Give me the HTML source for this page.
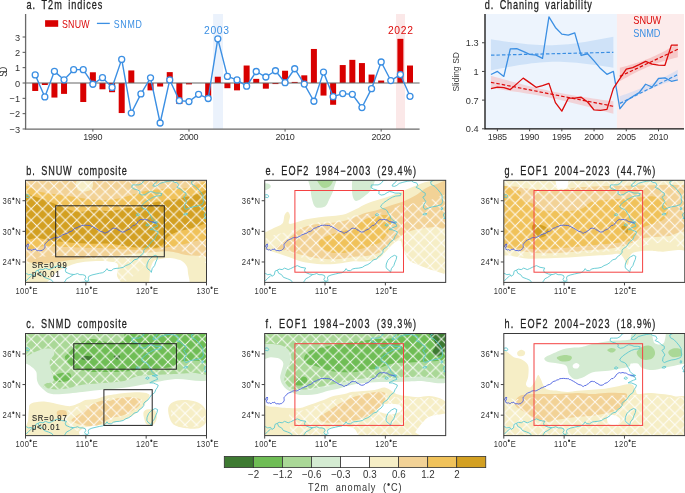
<!DOCTYPE html>
<html><head><meta charset="utf-8"><style>
html,body{margin:0;padding:0;background:#fff;}
svg{display:block;font-family:"Liberation Sans", sans-serif;will-change:transform;}
</style></head><body>
<svg width="685" height="493" viewBox="0 0 685 493">
<rect width="685" height="493" fill="#fff"/>
<rect x="213.1" y="14" width="9.9" height="115" fill="#ebf2fc"/>
<rect x="396" y="14" width="9" height="115" fill="#fbe8e8"/>
<rect x="32.21" y="83.00" width="6.0" height="7.97" fill="#d80000"/>
<rect x="41.82" y="83.00" width="6.0" height="1.99" fill="#d80000"/>
<rect x="51.43" y="83.00" width="6.0" height="14.56" fill="#d80000"/>
<rect x="61.04" y="83.00" width="6.0" height="10.88" fill="#d80000"/>
<rect x="80.26" y="83.00" width="6.0" height="19.01" fill="#d80000"/>
<rect x="89.87" y="72.27" width="6.0" height="10.73" fill="#d80000"/>
<rect x="99.48" y="83.00" width="6.0" height="6.29" fill="#d80000"/>
<rect x="109.09" y="83.00" width="6.0" height="9.20" fill="#d80000"/>
<rect x="118.70" y="83.00" width="6.0" height="30.05" fill="#d80000"/>
<rect x="128.31" y="70.43" width="6.0" height="12.57" fill="#d80000"/>
<rect x="147.53" y="83.00" width="6.0" height="7.36" fill="#d80000"/>
<rect x="157.14" y="83.00" width="6.0" height="3.53" fill="#d80000"/>
<rect x="166.75" y="72.12" width="6.0" height="10.88" fill="#d80000"/>
<rect x="176.36" y="83.00" width="6.0" height="21.00" fill="#d80000"/>
<rect x="185.97" y="83.00" width="6.0" height="1.38" fill="#d80000"/>
<rect x="205.19" y="83.00" width="6.0" height="13.34" fill="#d80000"/>
<rect x="214.80" y="76.71" width="6.0" height="6.29" fill="#d80000"/>
<rect x="224.41" y="83.00" width="6.0" height="5.21" fill="#d80000"/>
<rect x="234.02" y="83.00" width="6.0" height="7.36" fill="#d80000"/>
<rect x="243.63" y="65.52" width="6.0" height="17.48" fill="#d80000"/>
<rect x="253.24" y="78.86" width="6.0" height="4.14" fill="#d80000"/>
<rect x="262.85" y="83.00" width="6.0" height="5.67" fill="#d80000"/>
<rect x="272.46" y="83.00" width="6.0" height="1.07" fill="#d80000"/>
<rect x="282.07" y="70.74" width="6.0" height="12.26" fill="#d80000"/>
<rect x="291.68" y="81.93" width="6.0" height="1.07" fill="#d80000"/>
<rect x="301.29" y="75.33" width="6.0" height="7.67" fill="#d80000"/>
<rect x="310.90" y="48.97" width="6.0" height="34.03" fill="#d80000"/>
<rect x="320.51" y="83.00" width="6.0" height="12.57" fill="#d80000"/>
<rect x="330.12" y="83.00" width="6.0" height="21.77" fill="#d80000"/>
<rect x="339.73" y="65.06" width="6.0" height="17.94" fill="#d80000"/>
<rect x="349.34" y="59.85" width="6.0" height="23.15" fill="#d80000"/>
<rect x="358.95" y="63.07" width="6.0" height="19.93" fill="#d80000"/>
<rect x="368.56" y="74.57" width="6.0" height="8.43" fill="#d80000"/>
<rect x="378.17" y="80.55" width="6.0" height="2.45" fill="#d80000"/>
<rect x="397.39" y="38.85" width="6.0" height="44.15" fill="#d80000"/>
<rect x="407.00" y="65.52" width="6.0" height="17.48" fill="#d80000"/>
<line x1="25.6" y1="83.00" x2="419.6" y2="83.00" stroke="#666" stroke-width="1.2"/>
<polyline points="35.21,74.88 44.82,96.95 54.43,71.35 64.04,79.78 73.65,69.66 83.26,69.66 92.87,84.23 102.48,77.63 112.09,87.45 121.70,59.39 131.31,113.05 140.92,93.88 150.53,77.79 160.14,123.01 169.75,79.93 179.36,100.63 188.97,101.55 198.58,94.34 208.19,98.48 217.80,38.85 227.41,76.41 237.02,79.93 246.63,86.22 256.24,71.50 265.85,77.02 275.46,70.74 285.07,82.69 294.68,68.74 304.29,84.07 313.90,101.24 323.51,72.12 333.12,96.64 342.73,93.58 352.34,94.34 361.95,107.53 371.56,88.67 381.17,62.00 390.78,80.55 400.39,74.57 410.00,96.34" fill="none" stroke="#3b8fe3" stroke-width="1.4" stroke-linejoin="round"/>
<circle cx="35.21" cy="74.88" r="3.0" fill="#fff" stroke="#3b8fe3" stroke-width="1.3"/>
<circle cx="44.82" cy="96.95" r="3.0" fill="#fff" stroke="#3b8fe3" stroke-width="1.3"/>
<circle cx="54.43" cy="71.35" r="3.0" fill="#fff" stroke="#3b8fe3" stroke-width="1.3"/>
<circle cx="64.04" cy="79.78" r="3.0" fill="#fff" stroke="#3b8fe3" stroke-width="1.3"/>
<circle cx="73.65" cy="69.66" r="3.0" fill="#fff" stroke="#3b8fe3" stroke-width="1.3"/>
<circle cx="83.26" cy="69.66" r="3.0" fill="#fff" stroke="#3b8fe3" stroke-width="1.3"/>
<circle cx="92.87" cy="84.23" r="3.0" fill="#fff" stroke="#3b8fe3" stroke-width="1.3"/>
<circle cx="102.48" cy="77.63" r="3.0" fill="#fff" stroke="#3b8fe3" stroke-width="1.3"/>
<circle cx="112.09" cy="87.45" r="3.0" fill="#fff" stroke="#3b8fe3" stroke-width="1.3"/>
<circle cx="121.70" cy="59.39" r="3.0" fill="#fff" stroke="#3b8fe3" stroke-width="1.3"/>
<circle cx="131.31" cy="113.05" r="3.0" fill="#fff" stroke="#3b8fe3" stroke-width="1.3"/>
<circle cx="140.92" cy="93.88" r="3.0" fill="#fff" stroke="#3b8fe3" stroke-width="1.3"/>
<circle cx="150.53" cy="77.79" r="3.0" fill="#fff" stroke="#3b8fe3" stroke-width="1.3"/>
<circle cx="160.14" cy="123.01" r="3.0" fill="#fff" stroke="#3b8fe3" stroke-width="1.3"/>
<circle cx="169.75" cy="79.93" r="3.0" fill="#fff" stroke="#3b8fe3" stroke-width="1.3"/>
<circle cx="179.36" cy="100.63" r="3.0" fill="#fff" stroke="#3b8fe3" stroke-width="1.3"/>
<circle cx="188.97" cy="101.55" r="3.0" fill="#fff" stroke="#3b8fe3" stroke-width="1.3"/>
<circle cx="198.58" cy="94.34" r="3.0" fill="#fff" stroke="#3b8fe3" stroke-width="1.3"/>
<circle cx="208.19" cy="98.48" r="3.0" fill="#fff" stroke="#3b8fe3" stroke-width="1.3"/>
<circle cx="217.80" cy="38.85" r="3.0" fill="#fff" stroke="#3b8fe3" stroke-width="1.3"/>
<circle cx="227.41" cy="76.41" r="3.0" fill="#fff" stroke="#3b8fe3" stroke-width="1.3"/>
<circle cx="237.02" cy="79.93" r="3.0" fill="#fff" stroke="#3b8fe3" stroke-width="1.3"/>
<circle cx="246.63" cy="86.22" r="3.0" fill="#fff" stroke="#3b8fe3" stroke-width="1.3"/>
<circle cx="256.24" cy="71.50" r="3.0" fill="#fff" stroke="#3b8fe3" stroke-width="1.3"/>
<circle cx="265.85" cy="77.02" r="3.0" fill="#fff" stroke="#3b8fe3" stroke-width="1.3"/>
<circle cx="275.46" cy="70.74" r="3.0" fill="#fff" stroke="#3b8fe3" stroke-width="1.3"/>
<circle cx="285.07" cy="82.69" r="3.0" fill="#fff" stroke="#3b8fe3" stroke-width="1.3"/>
<circle cx="294.68" cy="68.74" r="3.0" fill="#fff" stroke="#3b8fe3" stroke-width="1.3"/>
<circle cx="304.29" cy="84.07" r="3.0" fill="#fff" stroke="#3b8fe3" stroke-width="1.3"/>
<circle cx="313.90" cy="101.24" r="3.0" fill="#fff" stroke="#3b8fe3" stroke-width="1.3"/>
<circle cx="323.51" cy="72.12" r="3.0" fill="#fff" stroke="#3b8fe3" stroke-width="1.3"/>
<circle cx="333.12" cy="96.64" r="3.0" fill="#fff" stroke="#3b8fe3" stroke-width="1.3"/>
<circle cx="342.73" cy="93.58" r="3.0" fill="#fff" stroke="#3b8fe3" stroke-width="1.3"/>
<circle cx="352.34" cy="94.34" r="3.0" fill="#fff" stroke="#3b8fe3" stroke-width="1.3"/>
<circle cx="361.95" cy="107.53" r="3.0" fill="#fff" stroke="#3b8fe3" stroke-width="1.3"/>
<circle cx="371.56" cy="88.67" r="3.0" fill="#fff" stroke="#3b8fe3" stroke-width="1.3"/>
<circle cx="381.17" cy="62.00" r="3.0" fill="#fff" stroke="#3b8fe3" stroke-width="1.3"/>
<circle cx="390.78" cy="80.55" r="3.0" fill="#fff" stroke="#3b8fe3" stroke-width="1.3"/>
<circle cx="400.39" cy="74.57" r="3.0" fill="#fff" stroke="#3b8fe3" stroke-width="1.3"/>
<circle cx="410.00" cy="96.34" r="3.0" fill="#fff" stroke="#3b8fe3" stroke-width="1.3"/>
<path d="M25.6,14 V129.1 H419.6" fill="none" stroke="#6a6a6a" stroke-width="1.3"/>
<line x1="22.6" y1="37.01" x2="25.6" y2="37.01" stroke="#555" stroke-width="1"/>
<text x="0" y="0" font-size="9.7" fill="#333" transform="translate(20.10 40.61) translate(-5.11 0) scale(0.95 1)">3</text>
<line x1="22.6" y1="52.34" x2="25.6" y2="52.34" stroke="#555" stroke-width="1"/>
<text x="0" y="0" font-size="9.7" fill="#333" transform="translate(20.10 55.94) translate(-5.11 0) scale(0.95 1)">2</text>
<line x1="22.6" y1="67.67" x2="25.6" y2="67.67" stroke="#555" stroke-width="1"/>
<text x="0" y="0" font-size="9.7" fill="#333" transform="translate(20.10 71.27) translate(-5.11 0) scale(0.95 1)">1</text>
<line x1="22.6" y1="83.00" x2="25.6" y2="83.00" stroke="#555" stroke-width="1"/>
<text x="0" y="0" font-size="9.7" fill="#333" transform="translate(20.10 86.60) translate(-5.11 0) scale(0.95 1)">0</text>
<line x1="22.6" y1="98.33" x2="25.6" y2="98.33" stroke="#555" stroke-width="1"/>
<text x="0" y="0" font-size="9.7" fill="#333" transform="translate(20.10 101.93) translate(-10.51 0) scale(0.95 1)">&#8722;1</text>
<line x1="22.6" y1="113.66" x2="25.6" y2="113.66" stroke="#555" stroke-width="1"/>
<text x="0" y="0" font-size="9.7" fill="#333" transform="translate(20.10 117.26) translate(-10.51 0) scale(0.95 1)">&#8722;2</text>
<line x1="22.6" y1="128.99" x2="25.6" y2="128.99" stroke="#555" stroke-width="1"/>
<text x="0" y="0" font-size="9.7" fill="#333" transform="translate(20.10 132.59) translate(-10.51 0) scale(0.95 1)">&#8722;3</text>
<line x1="92.87" y1="129.1" x2="92.87" y2="131.6" stroke="#555" stroke-width="1"/>
<text x="0" y="0" font-size="9.8" fill="#333" letter-spacing="-0.276" transform="translate(92.87 139.90) translate(-9.65 0) scale(0.92 1)">1990</text>
<line x1="188.97" y1="129.1" x2="188.97" y2="131.6" stroke="#555" stroke-width="1"/>
<text x="0" y="0" font-size="9.8" fill="#333" letter-spacing="-0.276" transform="translate(188.97 139.90) translate(-9.65 0) scale(0.92 1)">2000</text>
<line x1="285.07" y1="129.1" x2="285.07" y2="131.6" stroke="#555" stroke-width="1"/>
<text x="0" y="0" font-size="9.8" fill="#333" letter-spacing="-0.276" transform="translate(285.07 139.90) translate(-9.65 0) scale(0.92 1)">2010</text>
<line x1="381.17" y1="129.1" x2="381.17" y2="131.6" stroke="#555" stroke-width="1"/>
<text x="0" y="0" font-size="9.8" fill="#333" letter-spacing="-0.276" transform="translate(381.17 139.90) translate(-9.65 0) scale(0.92 1)">2020</text>
<text x="0" y="0" font-size="11" fill="#333" letter-spacing="-1.957" transform="translate(6.80 71.80) rotate(-90) translate(-5.00 0) scale(0.75 1)">SD</text>
<text x="0" y="0" font-size="12" fill="#222" letter-spacing="1.251" word-spacing="2.895" stroke="#222" stroke-width="0.26" transform="translate(26.60 8.80) translate(0.00 0) scale(0.76 1)">a. T2m indices</text>
<rect x="45.1" y="20.2" width="13.1" height="6.6" fill="#d80000"/>
<text x="0" y="0" font-size="11" fill="#dc0a0a" letter-spacing="0.340" transform="translate(61.90 27.50) translate(0.00 0) scale(0.8 1)">SNUW</text>
<line x1="96.9" y1="23.4" x2="109.8" y2="23.4" stroke="#3b8fe3" stroke-width="1.3"/>
<text x="0" y="0" font-size="11" fill="#3b8fe3" letter-spacing="0.993" transform="translate(113.70 27.50) translate(0.00 0) scale(0.8 1)">SNMD</text>
<text x="0" y="0" font-size="11.5" fill="#3b8fe3" letter-spacing="0.730" transform="translate(204.00 33.90) translate(0.00 0) scale(0.9 1)">2003</text>
<text x="0" y="0" font-size="11.5" fill="#dc0a0a" letter-spacing="0.730" transform="translate(387.90 33.90) translate(0.00 0) scale(0.9 1)">2022</text>
<rect x="485" y="14" width="131.9" height="114.8" fill="#edf4fd"/>
<rect x="616.9" y="14" width="67.1" height="114.8" fill="#fcebeb"/>
<path d="M490.96,39.30 L495.04,39.95 L499.12,40.58 L503.20,41.19 L507.28,41.77 L511.36,42.34 L515.44,42.87 L519.52,43.37 L523.61,43.82 L527.69,44.23 L531.77,44.58 L535.85,44.87 L539.93,45.08 L544.01,45.22 L548.09,45.27 L552.17,45.23 L556.26,45.09 L560.34,44.87 L564.42,44.55 L568.50,44.16 L572.58,43.70 L576.66,43.17 L580.74,42.58 L584.82,41.95 L588.90,41.28 L592.99,40.57 L597.07,39.83 L601.15,39.07 L605.23,38.28 L609.31,37.47 L613.39,36.65 L613.39,67.75 L609.31,67.10 L605.23,66.47 L601.15,65.86 L597.07,65.28 L592.99,64.71 L588.90,64.18 L584.82,63.68 L580.74,63.23 L576.66,62.82 L572.58,62.47 L568.50,62.18 L564.42,61.97 L560.34,61.83 L556.26,61.78 L552.17,61.83 L548.09,61.96 L544.01,62.18 L539.93,62.50 L535.85,62.89 L531.77,63.35 L527.69,63.88 L523.61,64.47 L519.52,65.10 L515.44,65.77 L511.36,66.48 L507.28,67.22 L503.20,67.98 L499.12,68.77 L495.04,69.58 L490.96,70.40Z" fill="#cfe2f8"/>
<path d="M490.96,75.77 L495.04,76.91 L499.12,78.04 L503.20,79.17 L507.28,80.29 L511.36,81.40 L515.44,82.50 L519.52,83.58 L523.61,84.64 L527.69,85.69 L531.77,86.71 L535.85,87.71 L539.93,88.68 L544.01,89.62 L548.09,90.53 L552.17,91.40 L556.26,92.24 L560.34,93.04 L564.42,93.80 L568.50,94.54 L572.58,95.25 L576.66,95.93 L580.74,96.59 L584.82,97.23 L588.90,97.86 L592.99,98.47 L597.07,99.06 L601.15,99.65 L605.23,100.23 L609.31,100.80 L613.39,101.37 L613.39,113.83 L609.31,112.69 L605.23,111.56 L601.15,110.43 L597.07,109.31 L592.99,108.20 L588.90,107.10 L584.82,106.02 L580.74,104.96 L576.66,103.91 L572.58,102.89 L568.50,101.89 L564.42,100.92 L560.34,99.98 L556.26,99.07 L552.17,98.20 L548.09,97.36 L544.01,96.56 L539.93,95.80 L535.85,95.06 L531.77,94.35 L527.69,93.67 L523.61,93.01 L519.52,92.37 L515.44,91.74 L511.36,91.13 L507.28,90.54 L503.20,89.95 L499.12,89.37 L495.04,88.80 L490.96,88.23Z" fill="#f1d3d8"/>
<path d="M619.84,67.73 L621.77,67.22 L623.70,66.70 L625.64,66.17 L627.57,65.63 L629.50,65.08 L631.44,64.51 L633.37,63.93 L635.30,63.34 L637.23,62.72 L639.17,62.08 L641.10,61.42 L643.03,60.73 L644.97,60.01 L646.90,59.26 L648.83,58.48 L650.77,57.66 L652.70,56.81 L654.63,55.94 L656.57,55.03 L658.50,54.10 L660.43,53.14 L662.37,52.16 L664.30,51.16 L666.23,50.14 L668.17,49.11 L670.10,48.06 L672.03,47.01 L673.97,45.94 L675.90,44.86 L677.83,43.78 L677.83,57.22 L675.90,57.73 L673.97,58.25 L672.03,58.78 L670.10,59.32 L668.17,59.87 L666.23,60.44 L664.30,61.02 L662.37,61.61 L660.43,62.23 L658.50,62.87 L656.57,63.53 L654.63,64.22 L652.70,64.94 L650.77,65.69 L648.83,66.47 L646.90,67.29 L644.97,68.14 L643.03,69.01 L641.10,69.92 L639.17,70.85 L637.23,71.81 L635.30,72.79 L633.37,73.79 L631.44,74.81 L629.50,75.84 L627.57,76.89 L625.64,77.94 L623.70,79.01 L621.77,80.09 L619.84,81.17Z" fill="#f6c8c8"/>
<path d="M619.84,96.21 L621.77,95.53 L623.70,94.84 L625.64,94.15 L627.57,93.46 L629.50,92.75 L631.44,92.04 L633.37,91.32 L635.30,90.59 L637.23,89.84 L639.17,89.07 L641.10,88.29 L643.03,87.49 L644.97,86.67 L646.90,85.82 L648.83,84.95 L650.77,84.05 L652.70,83.13 L654.63,82.19 L656.57,81.23 L658.50,80.24 L660.43,79.24 L662.37,78.22 L664.30,77.19 L666.23,76.14 L668.17,75.09 L670.10,74.02 L672.03,72.95 L673.97,71.88 L675.90,70.79 L677.83,69.71 L677.83,78.69 L675.90,79.37 L673.97,80.06 L672.03,80.75 L670.10,81.44 L668.17,82.15 L666.23,82.86 L664.30,83.58 L662.37,84.31 L660.43,85.06 L658.50,85.83 L656.57,86.61 L654.63,87.41 L652.70,88.23 L650.77,89.08 L648.83,89.95 L646.90,90.85 L644.97,91.77 L643.03,92.71 L641.10,93.67 L639.17,94.66 L637.23,95.66 L635.30,96.68 L633.37,97.71 L631.44,98.76 L629.50,99.81 L627.57,100.88 L625.64,101.95 L623.70,103.02 L621.77,104.11 L619.84,105.19Z" fill="#dedff0"/>
<line x1="490.96" y1="55.2" x2="613.39" y2="52.3" stroke="#3b8fe3" stroke-width="1.2" stroke-dasharray="3.5,2"/>
<line x1="490.96" y1="82.3" x2="613.39" y2="106.3" stroke="#dc0a0a" stroke-width="1.2" stroke-dasharray="3.5,2"/>
<line x1="619.84" y1="76.4" x2="677.83" y2="49.3" stroke="#dc0a0a" stroke-width="1.2" stroke-dasharray="3.5,2"/>
<line x1="619.84" y1="103.4" x2="677.83" y2="74.5" stroke="#3b8fe3" stroke-width="1.2" stroke-dasharray="3.5,2"/>
<polyline points="490.96,74.50 497.40,71.44 503.84,76.41 510.29,48.78 516.73,48.69 523.18,51.36 529.62,54.42 536.06,55.19 542.51,58.34 548.95,16.95 555.40,27.46 561.84,34.16 568.28,35.11 574.73,32.82 581.17,55.47 587.62,53.75 594.06,60.83 600.50,68.57 606.95,74.31 613.39,71.44 619.84,108.72 626.28,100.79 632.72,96.49 639.17,92.66 645.61,84.25 652.06,87.02 658.50,78.51 664.94,77.94 671.39,81.29 677.83,79.76" fill="none" stroke="#3b8fe3" stroke-width="1.3" stroke-linejoin="round"/>
<polyline points="490.96,88.65 497.40,87.21 503.84,87.69 510.29,89.60 516.73,83.87 523.18,78.13 529.62,82.63 536.06,87.31 542.51,85.59 548.95,83.39 555.40,102.61 561.84,111.11 568.28,98.21 574.73,98.21 581.17,97.25 587.62,102.03 594.06,109.97 600.50,110.35 606.95,109.39 613.39,88.36 619.84,78.71 626.28,69.05 632.72,67.62 639.17,64.65 645.61,61.40 652.06,64.17 658.50,65.03 664.94,65.32 671.39,45.15 677.83,45.15" fill="none" stroke="#dc0a0a" stroke-width="1.3" stroke-linejoin="round"/>
<path d="M485,14 V128.8 H684" fill="none" stroke="#111" stroke-width="1.3"/>
<line x1="482" y1="42.76" x2="485" y2="42.76" stroke="#444" stroke-width="1"/>
<text x="0" y="0" font-size="9.7" fill="#333" transform="translate(478.60 46.36) translate(-12.81 0) scale(0.95 1)">1.3</text>
<line x1="482" y1="71.44" x2="485" y2="71.44" stroke="#444" stroke-width="1"/>
<text x="0" y="0" font-size="9.7" fill="#333" transform="translate(478.60 75.04) translate(-5.11 0) scale(0.95 1)">1</text>
<line x1="482" y1="100.12" x2="485" y2="100.12" stroke="#444" stroke-width="1"/>
<text x="0" y="0" font-size="9.7" fill="#333" transform="translate(478.60 103.72) translate(-12.81 0) scale(0.95 1)">0.7</text>
<line x1="482" y1="128.80" x2="485" y2="128.80" stroke="#444" stroke-width="1"/>
<text x="0" y="0" font-size="9.7" fill="#333" transform="translate(478.60 132.40) translate(-12.81 0) scale(0.95 1)">0.4</text>
<line x1="497.40" y1="128.8" x2="497.40" y2="131.3" stroke="#444" stroke-width="1"/>
<text x="0" y="0" font-size="9.8" fill="#333" letter-spacing="-0.203" transform="translate(497.40 140.40) translate(-9.75 0) scale(0.92 1)">1985</text>
<line x1="529.62" y1="128.8" x2="529.62" y2="131.3" stroke="#444" stroke-width="1"/>
<text x="0" y="0" font-size="9.8" fill="#333" letter-spacing="-0.203" transform="translate(529.62 140.40) translate(-9.75 0) scale(0.92 1)">1990</text>
<line x1="561.84" y1="128.8" x2="561.84" y2="131.3" stroke="#444" stroke-width="1"/>
<text x="0" y="0" font-size="9.8" fill="#333" letter-spacing="-0.203" transform="translate(561.84 140.40) translate(-9.75 0) scale(0.92 1)">1995</text>
<line x1="594.06" y1="128.8" x2="594.06" y2="131.3" stroke="#444" stroke-width="1"/>
<text x="0" y="0" font-size="9.8" fill="#333" letter-spacing="-0.203" transform="translate(594.06 140.40) translate(-9.75 0) scale(0.92 1)">2000</text>
<line x1="626.28" y1="128.8" x2="626.28" y2="131.3" stroke="#444" stroke-width="1"/>
<text x="0" y="0" font-size="9.8" fill="#333" letter-spacing="-0.203" transform="translate(626.28 140.40) translate(-9.75 0) scale(0.92 1)">2005</text>
<line x1="658.50" y1="128.8" x2="658.50" y2="131.3" stroke="#444" stroke-width="1"/>
<text x="0" y="0" font-size="9.8" fill="#333" letter-spacing="-0.203" transform="translate(658.50 140.40) translate(-9.75 0) scale(0.92 1)">2010</text>
<text x="0" y="0" font-size="9.9" fill="#333" word-spacing="0.238" transform="translate(458.70 71.85) rotate(-90) translate(-19.75 0) scale(0.85 1)">Sliding SD</text>
<text x="0" y="0" font-size="12" fill="#222" letter-spacing="1.142" word-spacing="2.895" stroke="#222" stroke-width="0.26" transform="translate(484.70 8.80) translate(0.00 0) scale(0.76 1)">d. Chaning variability</text>
<text x="0" y="0" font-size="11.5" fill="#dc0a0a" letter-spacing="-0.044" transform="translate(633.30 24.30) translate(0.00 0) scale(0.8 1)">SNUW</text>
<text x="0" y="0" font-size="11.5" fill="#3b8fe3" letter-spacing="0.044" transform="translate(633.30 37.10) translate(0.00 0) scale(0.8 1)">SNMD</text>
<clipPath id="clipb"><rect x="25.5" y="180.3" width="181.0" height="102.1"/></clipPath>
<pattern id="hpb" patternUnits="userSpaceOnUse" x="25.5" y="180.3" width="11.4" height="11.4"><path d="M0,0L11.4,11.4M11.4,0L0,11.4M-1,10.4L1,12.4M10.4,-1L12.4,1" stroke="#fff" stroke-width="1" stroke-opacity="0.9" fill="none"/></pattern>
<g clip-path="url(#clipb)">
<rect x="25.5" y="180.3" width="181.0" height="102.1" fill="#f2d296"/>
<path d="M76.7,181.2C78.9,179.8 88.9,180.1 91.5,181.2C94.1,182.4 93.0,186.6 92.1,188.3C91.1,190.0 87.9,191.2 85.6,191.5C83.2,191.8 79.5,191.6 78.0,189.9C76.5,188.2 74.4,182.7 76.7,181.2Z" fill="#f6eec6"/>
<path d="M21.3,188.8C24.5,180.0 33.9,191.1 40.2,192.0C46.5,193.0 52.8,193.8 59.1,194.7C65.4,195.6 71.7,196.5 78.0,197.4C84.3,198.3 90.6,199.9 96.9,200.1C103.2,200.4 110.0,200.0 115.8,199.1C121.7,198.2 127.1,196.1 132.0,194.7C137.0,193.4 140.1,192.0 145.5,191.0C150.9,190.0 157.7,189.3 164.4,188.8C171.2,188.4 177.9,189.1 186.0,188.3C194.1,187.5 208.5,176.0 213.0,183.9C217.5,191.9 215.7,226.6 213.0,236.1C210.3,245.5 202.2,239.2 196.8,240.7C191.4,242.1 186.0,243.8 180.6,245.0C175.2,246.1 170.3,246.9 164.4,247.7C158.6,248.4 151.8,249.2 145.5,249.6C139.2,249.9 133.4,249.8 126.6,249.6C119.9,249.3 112.2,248.5 105.0,248.2C97.8,247.9 90.2,247.9 83.4,247.7C76.7,247.4 70.8,247.1 64.5,246.9C58.2,246.6 52.8,246.4 45.6,246.1C38.4,245.7 25.4,254.5 21.3,245.0C17.2,235.4 18.1,197.6 21.3,188.8Z" fill="#f0c25a"/>
<path d="M21.3,196.4C24.0,189.8 32.6,196.5 37.5,197.4C42.5,198.4 46.5,200.6 51.0,202.3C55.5,204.0 60.0,206.1 64.5,207.7C69.0,209.3 73.1,211.4 78.0,211.8C83.0,212.1 88.8,210.0 94.2,209.9C99.6,209.7 105.0,211.2 110.4,210.9C115.8,210.7 122.4,208.7 126.6,208.2C130.9,207.8 132.5,209.1 135.8,208.5C139.1,208.0 143.0,206.1 146.6,205.0C150.2,203.9 152.0,202.8 157.4,201.8C162.8,200.7 172.5,199.8 179.0,198.5C185.5,197.3 190.9,195.6 196.6,194.2C202.2,192.8 210.3,185.7 213.0,190.2C215.8,194.6 213.9,215.4 213.0,220.7C212.2,225.9 210.7,220.4 207.9,221.5C205.2,222.5 201.4,225.3 196.6,226.9C191.7,228.5 183.7,229.6 179.0,231.2C174.3,232.8 170.7,234.6 168.2,236.6C165.7,238.6 165.7,241.3 163.9,243.1C162.1,244.9 162.1,246.7 157.4,247.4C152.7,248.1 143.0,247.9 135.8,247.4C128.6,246.9 119.1,244.8 113.9,244.2C108.8,243.5 109.7,243.4 105.0,243.4C100.4,243.3 92.4,243.8 86.1,243.6C79.8,243.4 73.1,242.8 67.2,242.3C61.4,241.8 56.0,241.4 51.0,240.7C46.1,239.9 42.5,238.6 37.5,238.0C32.6,237.3 24.0,243.8 21.3,236.9C18.6,229.9 18.6,202.9 21.3,196.4Z" fill="#d3a022"/>
<path d="M21.3,263.9C24.5,259.3 33.9,264.2 40.2,263.9C46.5,263.5 52.8,262.5 59.1,261.7C65.4,260.9 71.3,259.8 78.0,259.0C84.8,258.2 92.9,257.4 99.6,256.9C106.4,256.3 112.2,256.3 118.5,255.8C124.8,255.2 131.6,254.2 137.4,253.6C143.3,253.0 148.2,252.6 153.6,252.3C159.0,251.9 164.4,251.0 169.8,251.5C175.2,251.9 178.8,253.5 186.0,255.0C193.2,256.4 208.5,254.3 213.0,260.4C217.5,266.4 245.0,286.2 213.0,291.4C181.1,296.6 53.3,296.0 21.3,291.4C-10.7,286.8 18.1,268.5 21.3,263.9Z" fill="#f6eec6"/>
<path d="M47.0,291.4C35.8,289.2 49.2,281.3 51.0,277.9C52.8,274.5 55.4,272.9 57.8,271.2C60.1,269.4 62.6,268.6 65.3,267.4C68.0,266.2 70.7,264.8 74.0,263.9C77.2,262.9 80.7,262.2 85.0,261.7C89.4,261.2 95.2,260.9 99.9,260.9C104.6,261.0 110.1,261.3 113.1,262.0C116.1,262.7 117.3,262.8 118.0,265.0C118.6,267.1 116.9,270.5 116.9,274.9C116.9,279.4 129.6,288.7 118.0,291.4C106.3,294.2 58.1,293.7 47.0,291.4Z" fill="#ffffff"/>
<path d="M153.1,262.0C154.8,259.3 157.3,259.7 160.1,259.0C162.9,258.3 166.8,257.8 170.1,257.9C173.4,258.1 177.4,258.9 180.1,260.1C182.7,261.3 184.7,263.0 186.0,265.0C187.3,266.9 187.7,267.6 187.9,272.0C188.1,276.4 192.9,288.2 187.1,291.4C181.3,294.7 159.3,294.2 153.1,291.4C146.9,288.7 149.8,279.9 149.8,274.9C149.8,270.0 151.4,264.6 153.1,262.0Z" fill="#ffffff"/>
<path d="M21.3,175.3C53.3,161.3 181.1,161.3 213.0,175.3C245.0,189.3 215.7,245.5 213.0,259.0C210.3,272.5 203.1,257.9 196.8,256.3C190.5,254.7 181.5,250.6 175.2,249.6C168.9,248.6 163.1,248.8 159.0,250.4C155.0,251.9 154.1,255.8 150.9,259.0C147.8,262.3 144.2,266.2 140.1,269.8C136.1,273.4 130.7,279.3 126.6,280.6C122.6,282.0 118.5,280.2 115.8,277.9C113.1,275.7 114.0,270.3 110.4,267.1C106.8,264.0 101.9,260.9 94.2,259.0C86.6,257.1 73.5,256.1 64.5,255.8C55.5,255.4 47.4,256.3 40.2,256.9C33.0,257.4 24.5,272.6 21.3,259.0C18.1,245.4 -10.7,189.3 21.3,175.3Z" fill="url(#hpb)"/>
<path d="M64.1,282.4 L65.3,280.9 L66.5,278.8 L69.5,277.3 L73.2,274.7 L75.6,274.2 L77.4,273.5 L79.8,274.7 L82.8,274.7 L85.2,275.5 L85.8,277.3 L84.6,279.3 L85.8,281.1 L87.9,281.1 L88.8,280.1 L88.2,278.1 L88.8,276.3 L91.9,275.0 L96.1,274.0 L99.7,273.2 L102.7,272.7 L105.1,271.2 L107.0,268.6 L108.2,270.4 L111.2,270.7 L113.6,268.9 L116.0,268.4 L119.6,268.1 L123.2,267.3 L125.7,265.6 L128.7,264.5 L131.7,262.5 L134.1,259.9 L137.7,258.9 L138.9,256.9 L141.9,254.8 L143.8,252.3 L143.8,250.2 L145.0,248.7 L148.0,246.7 L149.8,244.1 L151.6,241.6 L154.6,239.5 L155.8,236.5 L157.6,233.9 L158.2,231.9 L155.8,230.8 L153.4,229.8 L149.8,229.6 L152.2,228.3 L155.2,227.0 L157.6,226.2 L157.0,224.2 L154.0,222.9 L152.2,222.4 L155.2,222.2 L157.6,222.4 L154.0,220.6 L151.6,218.1 L151.0,216.0 L149.2,213.5 L148.0,210.9 L146.2,209.4 L143.1,208.4 L141.3,206.8 L142.5,204.8 L144.4,202.8 L147.4,200.7 L150.4,198.7 L153.4,197.1 L156.4,196.1 L161.2,195.6 L161.9,193.6 L159.4,193.1 L155.8,193.1 L152.8,192.0 L150.4,191.5 L148.0,192.6 L145.0,194.6 L141.9,195.1 L139.5,193.6 L140.1,191.5 L137.7,190.0 L134.1,189.0 L131.7,187.4 L132.3,184.9 L135.3,184.9 L138.9,184.9 L141.9,183.4 L143.8,180.8 L149.2,179.3 L152.2,177.2 L157.0,175.7 L160.0,177.7 L157.6,180.3 L155.8,182.9 L154.0,183.9 L152.8,185.9 L155.2,186.4 L157.6,185.4 L160.0,183.4 L163.7,182.3 L167.9,181.3 L172.1,180.8 L174.5,182.3 L177.5,182.9 L178.7,185.4 L176.9,187.4 L180.6,189.0 L183.0,191.5 L186.0,193.1 L186.0,195.6 L183.6,197.1 L185.4,199.7 L186.6,201.7 L184.8,204.3 L184.2,207.9 L186.0,209.4 L189.6,207.9 L193.2,206.8 L196.8,206.3 L199.9,205.3 L202.3,204.3 L203.5,201.7 L202.9,198.7 L202.9,195.6 L201.1,192.6 L198.1,189.0 L195.6,186.4 L192.0,184.4 L191.4,181.8 L194.4,180.3 L198.1,178.3" fill="none" stroke="#5cc8d0" stroke-width="0.9" stroke-linejoin="round"/>
<path d="M146.8,267.1 L147.1,264.0 L148.6,260.4 L150.4,258.4 L152.2,256.9 L155.2,255.3 L157.6,256.4 L157.0,259.4 L155.8,262.0 L154.6,265.6 L152.2,268.6 L151.3,272.4 L150.4,270.7 L148.0,269.1 L146.8,267.1" fill="none" stroke="#5cc8d0" stroke-width="0.9" stroke-linejoin="round"/>
<path d="M183.6,214.5 L185.4,213.2 L187.8,213.7 L186.0,215.0 L183.6,214.5" fill="none" stroke="#5cc8d0" stroke-width="0.9" stroke-linejoin="round"/>
<path d="M207.7,211.4 L205.3,213.0 L204.1,215.0 L205.3,217.1 L204.7,218.6 L207.7,218.1 L208.3,220.1 L207.7,224.2" fill="none" stroke="#5cc8d0" stroke-width="0.9" stroke-linejoin="round"/>
<path d="M202.3,207.4 L201.7,209.4 L202.9,209.9 L203.5,207.9 L202.3,207.4" fill="none" stroke="#5cc8d0" stroke-width="0.9" stroke-linejoin="round"/>
<path d="M78.0,282.9 L81.0,282.4 L84.0,282.1 L87.0,281.9 L90.1,282.4" fill="none" stroke="#5cc8d0" stroke-width="0.9" stroke-linejoin="round"/>
<path d="M25.5,195.1 L27.9,194.6 L29.7,196.1 L28.5,197.7 L25.5,196.9" fill="none" stroke="#5cc8d0" stroke-width="0.9" stroke-linejoin="round"/>
<path d="M145.6,225.2 L147.4,223.7 L149.2,224.7 L148.0,226.2 L145.6,225.2" fill="none" stroke="#5cc8d0" stroke-width="0.9" stroke-linejoin="round"/>
<path d="M135.9,215.0 L137.7,213.5 L139.5,214.5 L138.3,216.0 L135.9,215.0" fill="none" stroke="#5cc8d0" stroke-width="0.9" stroke-linejoin="round"/>
<path d="M73.8,274.5 L70.1,274.0 L65.9,272.2 L65.3,270.1 L66.5,268.1 L61.7,267.3 L58.1,265.6 L54.5,267.1 L51.4,268.6 L49.0,269.6 L45.4,268.1 L43.0,269.6 L40.0,269.1 L38.2,270.1" fill="none" stroke="#5cc8d0" stroke-width="0.9" stroke-linejoin="round"/>
<path d="M38.2,270.1 L35.8,271.2 L35.2,274.7 L32.7,276.3 L31.5,274.2 L28.5,274.7 L26.7,273.7 L24.9,273.2" fill="none" stroke="#5cc8d0" stroke-width="0.9" stroke-linejoin="round"/>
<path d="M38.2,270.1 L39.4,273.2 L42.4,274.7 L44.2,277.3 L48.4,278.8 L52.0,280.4 L53.3,282.4" fill="none" stroke="#5cc8d0" stroke-width="0.9" stroke-linejoin="round"/>
<path d="M26.1,280.9 L28.5,278.3 L31.5,275.8" fill="none" stroke="#5cc8d0" stroke-width="0.9" stroke-linejoin="round"/>
<path d="M25.5,246.9 L25.9,246.8 L26.2,246.6 L26.0,246.1 L26.3,245.9 L26.9,245.7 L26.8,245.1 L27.2,244.8 L27.3,244.4 L27.8,244.6 L27.8,244.1 L28.3,244.3 L28.3,243.9 L28.3,244.3 L27.9,244.8 L28.0,245.2 L28.5,245.6 L28.1,246.1 L28.2,246.8 L27.2,247.0 L27.3,247.7 L27.1,248.2 L27.6,248.5 L28.0,248.9 L27.6,249.4 L28.5,249.6 L29.2,249.9 L30.2,249.6 L30.9,250.2 L32.2,250.3 L33.1,249.3 L34.4,249.4 L35.5,248.9 L35.7,249.6 L36.2,250.1 L36.9,250.4 L37.6,250.7 L38.7,250.4 L39.9,250.9 L41.0,250.5 L42.1,250.5 L42.6,249.9 L43.3,249.6 L43.8,249.0 L44.4,248.5 L44.9,247.6 L45.0,246.6 L44.9,245.6 L44.7,244.6 L45.4,243.5 L46.4,242.6 L47.3,241.7 L48.0,240.6 L49.3,239.9 L50.7,239.3 L52.1,238.8 L53.3,238.0 L54.5,237.6 L55.8,237.5 L57.2,237.7 L58.5,237.3 L59.9,236.5 L61.4,235.8 L62.7,234.8 L64.4,234.4 L65.9,233.5 L67.8,233.1 L69.1,231.8 L71.0,231.4 L72.4,230.8 L73.3,229.8 L74.2,228.7 L75.6,228.1 L77.2,227.7 L78.5,226.8 L80.2,226.5 L81.5,225.5 L83.5,225.3 L85.4,225.2 L87.4,225.4 L89.4,225.5 L90.6,225.6 L91.3,226.4 L92.4,226.5 L93.3,227.1 L95.2,228.1 L97.0,229.2 L98.8,230.4 L100.6,231.4 L101.9,231.6 L103.0,232.0 L103.9,232.8 L105.0,233.3 L106.2,232.4 L107.9,232.2 L108.9,231.0 L110.3,230.4 L111.1,229.7 L111.7,228.8 L112.7,228.4 L113.8,228.0 L114.5,228.3 L115.2,228.4 L116.0,228.3 L116.6,228.6 L117.8,229.8 L119.5,230.4 L120.8,231.5 L122.5,232.1 L124.0,231.9 L125.4,231.3 L126.4,230.2 L127.8,229.8 L129.2,229.2 L130.3,228.2 L131.3,227.3 L132.4,226.3 L133.2,225.4 L134.7,225.4 L135.5,224.5 L136.5,223.9 L137.3,222.9 L137.9,221.7 L138.9,220.7 L140.0,219.9 L141.1,219.4 L142.4,219.8 L143.6,219.5 L144.7,219.3 L145.8,219.8 L147.2,219.8 L148.4,220.2 L149.4,221.0 L150.5,221.6 L151.7,221.8 L152.9,222.0 L154.1,222.0 L154.5,222.6 L155.3,222.7 L155.9,223.0 L156.4,223.4" fill="none" stroke="#4a5fe0" stroke-width="0.9" stroke-linejoin="round"/>
<rect x="55.7" y="205.8" width="108.6" height="51.0" fill="none" stroke="#222" stroke-width="1"/>
</g>
<text x="0" y="0" font-size="9.0" fill="#222" letter-spacing="0.944" stroke="#222" stroke-width="0.12" transform="translate(31.90 268.10) translate(0.00 0) scale(0.85 1)">SR=0.99</text>
<text x="0" y="0" font-size="9.0" fill="#222" letter-spacing="0.988" stroke="#222" stroke-width="0.12" transform="translate(31.90 277.10) translate(0.00 0) scale(0.85 1)">p&lt;0.01</text>
<rect x="25.5" y="180.3" width="181.0" height="102.1" fill="none" stroke="#3a3a3a" stroke-width="1"/>
<line x1="22.5" y1="200.72" x2="25.5" y2="200.72" stroke="#444" stroke-width="1"/>
<text x="0" y="0" font-size="8.5" fill="#333" letter-spacing="0.556" transform="translate(21.10 203.92) translate(-18.60 0) scale(0.9 1)">36<tspan dy="-2.29" font-size="8.5">&#8226;</tspan><tspan dy="2.29">N</tspan></text>
<line x1="22.5" y1="231.35" x2="25.5" y2="231.35" stroke="#444" stroke-width="1"/>
<text x="0" y="0" font-size="8.5" fill="#333" letter-spacing="0.556" transform="translate(21.10 234.55) translate(-18.60 0) scale(0.9 1)">30<tspan dy="-2.29" font-size="8.5">&#8226;</tspan><tspan dy="2.29">N</tspan></text>
<line x1="22.5" y1="261.98" x2="25.5" y2="261.98" stroke="#444" stroke-width="1"/>
<text x="0" y="0" font-size="8.5" fill="#333" letter-spacing="0.556" transform="translate(21.10 265.18) translate(-18.60 0) scale(0.9 1)">24<tspan dy="-2.29" font-size="8.5">&#8226;</tspan><tspan dy="2.29">N</tspan></text>
<line x1="25.50" y1="282.4" x2="25.50" y2="285.4" stroke="#444" stroke-width="1"/>
<text x="0" y="0" font-size="8.4" fill="#333" letter-spacing="0.479" transform="translate(26.60 293.50) translate(-11.20 0) scale(0.9 1)">100<tspan dy="-2.27" font-size="8.4">&#8226;</tspan><tspan dy="2.27">E</tspan></text>
<line x1="85.83" y1="282.4" x2="85.83" y2="285.4" stroke="#444" stroke-width="1"/>
<text x="0" y="0" font-size="8.4" fill="#333" letter-spacing="0.636" transform="translate(86.93 293.50) translate(-11.20 0) scale(0.9 1)">110<tspan dy="-2.27" font-size="8.4">&#8226;</tspan><tspan dy="2.27">E</tspan></text>
<line x1="146.17" y1="282.4" x2="146.17" y2="285.4" stroke="#444" stroke-width="1"/>
<text x="0" y="0" font-size="8.4" fill="#333" letter-spacing="0.479" transform="translate(147.27 293.50) translate(-11.20 0) scale(0.9 1)">120<tspan dy="-2.27" font-size="8.4">&#8226;</tspan><tspan dy="2.27">E</tspan></text>
<line x1="206.50" y1="282.4" x2="206.50" y2="285.4" stroke="#444" stroke-width="1"/>
<text x="0" y="0" font-size="8.4" fill="#333" letter-spacing="0.479" transform="translate(207.60 293.50) translate(-11.20 0) scale(0.9 1)">130<tspan dy="-2.27" font-size="8.4">&#8226;</tspan><tspan dy="2.27">E</tspan></text>
<text x="0" y="0" font-size="12" fill="#222" letter-spacing="1.157" word-spacing="2.895" stroke="#222" stroke-width="0.26" transform="translate(26.30 174.80) translate(0.00 0) scale(0.76 1)">b. SNUW composite</text>
<clipPath id="clipe"><rect x="264.7" y="180.3" width="181.0" height="102.1"/></clipPath>
<pattern id="hpe" patternUnits="userSpaceOnUse" x="264.7" y="180.3" width="11.4" height="11.4"><path d="M0,0L11.4,11.4M11.4,0L0,11.4M-1,10.4L1,12.4M10.4,-1L12.4,1" stroke="#fff" stroke-width="1" stroke-opacity="0.9" fill="none"/></pattern>
<g clip-path="url(#clipe)">
<rect x="264.7" y="180.3" width="181.0" height="102.1" fill="#ffffff"/>
<path d="M309.7,175.3C313.8,173.0 330.8,173.0 334.8,175.3C338.8,177.5 334.7,184.8 333.8,188.8C332.8,192.9 330.6,196.7 329.2,199.6C327.7,202.5 327.4,205.1 325.1,206.4C322.9,207.6 317.8,208.3 315.7,207.2C313.5,206.0 313.0,202.7 312.1,199.6C311.3,196.5 310.9,192.9 310.5,188.8C310.1,184.8 305.7,177.5 309.7,175.3Z" fill="#d4ebd2"/>
<path d="M316.2,175.3C318.0,173.3 330.3,173.6 332.7,175.3C335.1,177.0 332.3,183.6 330.5,185.6C328.7,187.5 324.3,188.9 321.9,187.2C319.5,185.5 314.4,177.3 316.2,175.3Z" fill="#aad897"/>
<path d="M354.8,175.3C358.5,172.6 371.5,173.0 374.3,175.3C377.1,177.5 373.4,185.2 371.6,188.8C369.8,192.4 366.2,194.9 363.5,196.9C360.8,198.9 357.2,201.6 355.4,200.7C353.5,199.8 352.2,195.7 352.1,191.5C352.0,187.3 351.1,178.0 354.8,175.3Z" fill="#d4ebd2"/>
<path d="M260.3,183.9C261.7,183.0 267.2,183.4 268.9,183.9C270.7,184.5 271.0,186.2 270.6,187.2C270.1,188.2 268.0,189.5 266.2,189.9C264.5,190.2 261.3,190.3 260.3,189.3C259.3,188.4 258.9,184.8 260.3,183.9Z" fill="#d4ebd2"/>
<path d="M260.3,233.4C261.1,230.6 262.9,233.2 265.2,232.3C267.4,231.4 270.9,229.4 273.8,228.0C276.7,226.5 280.6,225.8 282.4,223.6C284.2,221.5 283.7,217.0 284.6,215.0C285.5,213.0 286.9,211.6 287.8,211.8C288.7,211.9 289.8,214.1 290.0,216.1C290.2,218.1 288.0,222.6 288.9,223.6C289.9,224.7 292.8,223.3 295.7,222.6C298.6,221.8 302.5,220.2 306.5,219.3C310.4,218.4 315.1,217.7 319.4,217.2C323.8,216.6 328.0,216.6 332.4,216.1C336.8,215.5 341.7,215.1 345.6,213.9C349.6,212.7 352.8,210.7 356.2,209.1C359.5,207.4 362.1,205.5 365.9,203.9C369.7,202.3 374.8,201.0 379.1,199.6C383.5,198.2 388.1,196.7 392.1,195.3C396.0,193.8 399.3,192.4 402.9,191.0C406.5,189.5 410.0,188.1 413.7,186.6C417.3,185.2 421.1,183.4 424.8,182.3C428.4,181.2 431.0,180.9 435.6,180.2C440.1,179.4 449.3,162.1 452.0,178.0C454.8,193.9 452.9,259.6 452.0,275.8C451.2,291.9 450.8,275.8 446.9,274.7C443.0,273.6 433.6,270.7 428.8,269.0C424.0,267.3 421.3,266.1 418.0,264.7C414.8,263.2 411.9,262.9 409.4,260.4C406.8,257.8 404.3,252.8 402.9,249.6C401.4,246.3 402.2,242.0 400.7,240.9C399.3,239.8 396.4,241.6 394.2,243.1C392.1,244.5 390.3,247.0 387.8,249.6C385.2,252.1 382.8,256.2 379.1,258.2C375.5,260.2 369.9,261.0 365.9,261.4C361.8,261.9 357.5,261.1 354.8,261.2C352.2,261.2 353.3,261.3 350.0,261.7C346.6,262.2 340.0,263.5 334.6,263.9C329.1,264.2 322.7,264.2 317.3,263.9C311.9,263.5 306.9,262.8 302.2,261.7C297.4,260.6 293.3,258.6 288.9,257.1C284.6,255.6 279.9,254.1 276.0,252.8C272.0,251.5 267.8,250.2 265.2,249.6C262.5,248.9 261.1,251.5 260.3,248.8C259.5,246.1 259.5,236.1 260.3,233.4Z" fill="#f6eec6"/>
<path d="M276.0,247.4C276.7,246.0 281.7,243.1 284.6,240.9C287.5,238.8 290.6,236.6 293.5,234.4C296.4,232.3 298.9,229.6 302.2,228.0C305.4,226.3 309.4,225.4 313.0,224.7C316.6,224.0 320.2,224.0 323.8,223.6C327.4,223.3 330.9,223.1 334.6,222.6C338.2,222.0 342.3,221.3 345.6,220.4C349.0,219.5 351.4,218.4 354.8,217.2C358.2,215.9 361.8,214.1 365.9,212.8C369.9,211.6 374.8,210.9 379.1,209.6C383.5,208.3 387.8,206.5 392.1,205.0C396.4,203.5 401.1,202.3 405.0,200.7C409.0,199.1 412.6,197.3 415.8,195.3C419.1,193.3 421.5,190.6 424.8,188.8C428.0,187.0 431.0,185.5 435.6,184.5C440.1,183.5 449.3,176.0 452.0,182.9C454.8,189.7 454.8,218.5 452.0,225.8C449.3,233.1 440.1,226.5 435.6,226.9C431.0,227.2 428.4,227.4 424.8,228.0C421.1,228.5 417.0,229.2 413.7,230.1C410.4,231.0 407.9,231.9 405.0,233.4C402.2,234.8 399.3,236.8 396.4,238.8C393.5,240.7 390.6,242.9 387.8,245.2C384.9,247.6 382.8,251.0 379.1,252.8C375.5,254.6 369.6,255.4 365.9,256.0C362.2,256.7 360.4,256.2 357.0,256.6C353.6,256.9 349.7,257.8 345.6,258.2C341.5,258.7 337.1,259.3 332.4,259.3C327.7,259.3 322.3,258.9 317.3,258.2C312.2,257.5 306.5,256.0 302.2,255.0C297.8,253.9 295.0,252.6 291.4,251.7C287.7,250.8 282.8,250.3 280.3,249.6C277.7,248.8 275.2,248.8 276.0,247.4Z" fill="#f2d296"/>
<path d="M319.4,240.9C320.9,239.3 324.8,237.0 328.1,235.5C331.3,234.1 335.2,233.3 338.9,232.3C342.5,231.2 346.9,230.5 350.0,229.3C353.0,228.1 354.3,227.0 357.0,225.3C359.6,223.5 362.6,220.6 365.9,219.0C369.2,217.5 373.4,216.8 376.7,216.1C380.0,215.4 383.2,214.6 385.6,215.0C388.0,215.4 390.3,216.1 391.0,218.2C391.7,220.4 390.8,224.9 389.9,228.0C389.0,231.0 387.4,234.1 385.6,236.6C383.8,239.1 382.4,241.3 379.1,243.1C375.8,244.9 369.6,246.3 365.9,247.4C362.2,248.5 360.4,248.7 357.0,249.6C353.6,250.5 349.7,252.3 345.6,252.8C341.5,253.3 336.0,253.3 332.4,252.8C328.8,252.3 325.9,250.8 323.8,249.6C321.6,248.3 320.2,246.7 319.4,245.2C318.7,243.8 318.0,242.5 319.4,240.9Z" fill="#f0c25a"/>
<path d="M265.2,238.8C267.0,236.6 272.0,235.7 276.0,234.4C279.9,233.2 284.6,232.5 288.9,231.2C293.3,229.9 297.4,228.3 302.2,226.9C306.9,225.4 313.0,223.5 317.3,222.6C321.6,221.7 324.5,221.8 328.1,221.5C331.7,221.1 334.7,221.3 338.9,220.4C343.0,219.5 348.4,216.9 352.9,215.8C357.4,214.7 361.5,214.5 365.9,213.9C370.3,213.4 375.1,212.7 379.1,212.6C383.1,212.4 387.0,214.1 389.9,213.1C392.8,212.1 393.3,207.8 396.4,206.4C399.6,204.9 404.1,205.0 408.8,204.2C413.6,203.4 417.8,202.5 425.0,201.8C432.2,201.0 447.5,187.6 452.0,199.6C456.5,211.6 454.1,261.3 452.0,273.6C450.0,285.9 443.8,274.4 439.9,273.6C436.0,272.8 432.5,270.5 428.8,269.0C425.2,267.5 421.3,266.1 418.0,264.7C414.8,263.2 412.2,262.1 409.4,260.4C406.5,258.6 404.0,254.5 400.7,254.2C397.5,253.8 393.5,257.3 389.9,258.2C386.3,259.1 384.6,259.2 379.1,259.6C373.6,259.9 365.5,260.0 357.0,260.4C348.5,260.7 336.5,261.9 328.1,261.7C319.7,261.5 313.0,261.0 306.5,259.3C300.0,257.6 294.0,253.3 288.9,251.7C283.8,250.1 279.9,250.3 276.0,249.6C272.0,248.8 267.0,249.2 265.2,247.4C263.4,245.6 263.4,240.9 265.2,238.8Z" fill="url(#hpe)"/>
<path d="M303.3,282.4 L304.5,280.9 L305.7,278.8 L308.7,277.3 L312.4,274.7 L314.8,274.2 L316.6,273.5 L319.0,274.7 L322.0,274.7 L324.4,275.5 L325.0,277.3 L323.8,279.3 L325.0,281.1 L327.1,281.1 L328.1,280.1 L327.4,278.1 L328.1,276.3 L331.1,275.0 L335.3,274.0 L338.9,273.2 L341.9,272.7 L344.3,271.2 L346.1,268.6 L347.4,270.4 L350.4,270.7 L352.8,268.9 L355.2,268.4 L358.8,268.1 L362.4,267.3 L364.9,265.6 L367.9,264.5 L370.9,262.5 L373.3,259.9 L376.9,258.9 L378.1,256.9 L381.1,254.8 L383.0,252.3 L383.0,250.2 L384.2,248.7 L387.2,246.7 L389.0,244.1 L390.8,241.6 L393.8,239.5 L395.0,236.5 L396.8,233.9 L397.4,231.9 L395.0,230.8 L392.6,229.8 L389.0,229.6 L391.4,228.3 L394.4,227.0 L396.8,226.2 L396.2,224.2 L393.2,222.9 L391.4,222.4 L394.4,222.2 L396.8,222.4 L393.2,220.6 L390.8,218.1 L390.2,216.0 L388.4,213.5 L387.2,210.9 L385.4,209.4 L382.3,208.4 L380.5,206.8 L381.7,204.8 L383.6,202.8 L386.6,200.7 L389.6,198.7 L392.6,197.1 L395.6,196.1 L400.4,195.6 L401.1,193.6 L398.6,193.1 L395.0,193.1 L392.0,192.0 L389.6,191.5 L387.2,192.6 L384.2,194.6 L381.1,195.1 L378.7,193.6 L379.3,191.5 L376.9,190.0 L373.3,189.0 L370.9,187.4 L371.5,184.9 L374.5,184.9 L378.1,184.9 L381.1,183.4 L383.0,180.8 L388.4,179.3 L391.4,177.2 L396.2,175.7 L399.2,177.7 L396.8,180.3 L395.0,182.9 L393.2,183.9 L392.0,185.9 L394.4,186.4 L396.8,185.4 L399.2,183.4 L402.9,182.3 L407.1,181.3 L411.3,180.8 L413.7,182.3 L416.7,182.9 L417.9,185.4 L416.1,187.4 L419.8,189.0 L422.2,191.5 L425.2,193.1 L425.2,195.6 L422.8,197.1 L424.6,199.7 L425.8,201.7 L424.0,204.3 L423.4,207.9 L425.2,209.4 L428.8,207.9 L432.4,206.8 L436.0,206.3 L439.1,205.3 L441.5,204.3 L442.7,201.7 L442.1,198.7 L442.1,195.6 L440.3,192.6 L437.3,189.0 L434.8,186.4 L431.2,184.4 L430.6,181.8 L433.6,180.3 L437.3,178.3" fill="none" stroke="#5cc8d0" stroke-width="0.9" stroke-linejoin="round"/>
<path d="M386.0,267.1 L386.3,264.0 L387.8,260.4 L389.6,258.4 L391.4,256.9 L394.4,255.3 L396.8,256.4 L396.2,259.4 L395.0,262.0 L393.8,265.6 L391.4,268.6 L390.5,272.4 L389.6,270.7 L387.2,269.1 L386.0,267.1" fill="none" stroke="#5cc8d0" stroke-width="0.9" stroke-linejoin="round"/>
<path d="M422.8,214.5 L424.6,213.2 L427.0,213.7 L425.2,215.0 L422.8,214.5" fill="none" stroke="#5cc8d0" stroke-width="0.9" stroke-linejoin="round"/>
<path d="M446.9,211.4 L444.5,213.0 L443.3,215.0 L444.5,217.1 L443.9,218.6 L446.9,218.1 L447.5,220.1 L446.9,224.2" fill="none" stroke="#5cc8d0" stroke-width="0.9" stroke-linejoin="round"/>
<path d="M441.5,207.4 L440.9,209.4 L442.1,209.9 L442.7,207.9 L441.5,207.4" fill="none" stroke="#5cc8d0" stroke-width="0.9" stroke-linejoin="round"/>
<path d="M317.2,282.9 L320.2,282.4 L323.2,282.1 L326.2,281.9 L329.3,282.4" fill="none" stroke="#5cc8d0" stroke-width="0.9" stroke-linejoin="round"/>
<path d="M264.7,195.1 L267.1,194.6 L268.9,196.1 L267.7,197.7 L264.7,196.9" fill="none" stroke="#5cc8d0" stroke-width="0.9" stroke-linejoin="round"/>
<path d="M384.8,225.2 L386.6,223.7 L388.4,224.7 L387.2,226.2 L384.8,225.2" fill="none" stroke="#5cc8d0" stroke-width="0.9" stroke-linejoin="round"/>
<path d="M375.1,215.0 L376.9,213.5 L378.7,214.5 L377.5,216.0 L375.1,215.0" fill="none" stroke="#5cc8d0" stroke-width="0.9" stroke-linejoin="round"/>
<path d="M313.0,274.5 L309.3,274.0 L305.1,272.2 L304.5,270.1 L305.7,268.1 L300.9,267.3 L297.3,265.6 L293.7,267.1 L290.6,268.6 L288.2,269.6 L284.6,268.1 L282.2,269.6 L279.2,269.1 L277.4,270.1" fill="none" stroke="#5cc8d0" stroke-width="0.9" stroke-linejoin="round"/>
<path d="M277.4,270.1 L275.0,271.2 L274.4,274.7 L271.9,276.3 L270.7,274.2 L267.7,274.7 L265.9,273.7 L264.1,273.2" fill="none" stroke="#5cc8d0" stroke-width="0.9" stroke-linejoin="round"/>
<path d="M277.4,270.1 L278.6,273.2 L281.6,274.7 L283.4,277.3 L287.6,278.8 L291.2,280.4 L292.5,282.4" fill="none" stroke="#5cc8d0" stroke-width="0.9" stroke-linejoin="round"/>
<path d="M265.3,280.9 L267.7,278.3 L270.7,275.8" fill="none" stroke="#5cc8d0" stroke-width="0.9" stroke-linejoin="round"/>
<path d="M264.7,246.9 L265.1,246.8 L265.4,246.6 L265.2,246.1 L265.5,245.9 L266.1,245.7 L266.0,245.1 L266.4,244.8 L266.5,244.4 L267.0,244.6 L267.0,244.1 L267.5,244.3 L267.5,243.9 L267.5,244.3 L267.1,244.8 L267.2,245.2 L267.7,245.6 L267.3,246.1 L267.4,246.8 L266.4,247.0 L266.5,247.7 L266.3,248.2 L266.8,248.5 L267.2,248.9 L266.8,249.4 L267.7,249.6 L268.4,249.9 L269.4,249.6 L270.1,250.2 L271.4,250.3 L272.3,249.3 L273.6,249.4 L274.7,248.9 L274.9,249.6 L275.4,250.1 L276.1,250.4 L276.8,250.7 L277.9,250.4 L279.1,250.9 L280.2,250.5 L281.3,250.5 L281.8,249.9 L282.5,249.6 L283.0,249.0 L283.6,248.5 L284.1,247.6 L284.2,246.6 L284.1,245.6 L283.9,244.6 L284.6,243.5 L285.6,242.6 L286.5,241.7 L287.2,240.6 L288.5,239.9 L289.9,239.3 L291.3,238.8 L292.5,238.0 L293.7,237.6 L295.0,237.5 L296.4,237.7 L297.7,237.3 L299.1,236.5 L300.6,235.8 L301.9,234.8 L303.6,234.4 L305.1,233.5 L307.0,233.1 L308.3,231.8 L310.2,231.4 L311.6,230.8 L312.5,229.8 L313.4,228.7 L314.8,228.1 L316.4,227.7 L317.7,226.8 L319.4,226.5 L320.7,225.5 L322.7,225.3 L324.6,225.2 L326.6,225.4 L328.6,225.5 L329.8,225.6 L330.5,226.4 L331.6,226.5 L332.5,227.1 L334.4,228.1 L336.2,229.2 L338.0,230.4 L339.8,231.4 L341.1,231.6 L342.2,232.0 L343.1,232.8 L344.2,233.3 L345.4,232.4 L347.1,232.2 L348.1,231.0 L349.5,230.4 L350.3,229.7 L350.9,228.8 L351.9,228.4 L353.0,228.0 L353.7,228.3 L354.4,228.4 L355.2,228.3 L355.8,228.6 L357.0,229.8 L358.7,230.4 L360.0,231.5 L361.7,232.1 L363.2,231.9 L364.6,231.3 L365.6,230.2 L367.0,229.8 L368.4,229.2 L369.5,228.2 L370.5,227.3 L371.6,226.3 L372.4,225.4 L373.9,225.4 L374.7,224.5 L375.7,223.9 L376.5,222.9 L377.1,221.7 L378.1,220.7 L379.2,219.9 L380.3,219.4 L381.6,219.8 L382.8,219.5 L383.9,219.3 L385.0,219.8 L386.4,219.8 L387.6,220.2 L388.6,221.0 L389.7,221.6 L390.9,221.8 L392.1,222.0 L393.3,222.0 L393.7,222.6 L394.5,222.7 L395.1,223.0 L395.6,223.4" fill="none" stroke="#4a5fe0" stroke-width="0.9" stroke-linejoin="round"/>
<rect x="294.9" y="190.5" width="108.6" height="81.7" fill="none" stroke="#f44242" stroke-width="1"/>
</g>
<rect x="264.7" y="180.3" width="181.0" height="102.1" fill="none" stroke="#3a3a3a" stroke-width="1"/>
<line x1="261.7" y1="200.72" x2="264.7" y2="200.72" stroke="#444" stroke-width="1"/>
<text x="0" y="0" font-size="8.5" fill="#333" letter-spacing="0.556" transform="translate(260.30 203.92) translate(-18.60 0) scale(0.9 1)">36<tspan dy="-2.29" font-size="8.5">&#8226;</tspan><tspan dy="2.29">N</tspan></text>
<line x1="261.7" y1="231.35" x2="264.7" y2="231.35" stroke="#444" stroke-width="1"/>
<text x="0" y="0" font-size="8.5" fill="#333" letter-spacing="0.556" transform="translate(260.30 234.55) translate(-18.60 0) scale(0.9 1)">30<tspan dy="-2.29" font-size="8.5">&#8226;</tspan><tspan dy="2.29">N</tspan></text>
<line x1="261.7" y1="261.98" x2="264.7" y2="261.98" stroke="#444" stroke-width="1"/>
<text x="0" y="0" font-size="8.5" fill="#333" letter-spacing="0.556" transform="translate(260.30 265.18) translate(-18.60 0) scale(0.9 1)">24<tspan dy="-2.29" font-size="8.5">&#8226;</tspan><tspan dy="2.29">N</tspan></text>
<line x1="264.70" y1="282.4" x2="264.70" y2="285.4" stroke="#444" stroke-width="1"/>
<text x="0" y="0" font-size="8.4" fill="#333" letter-spacing="0.479" transform="translate(265.80 293.50) translate(-11.20 0) scale(0.9 1)">100<tspan dy="-2.27" font-size="8.4">&#8226;</tspan><tspan dy="2.27">E</tspan></text>
<line x1="325.03" y1="282.4" x2="325.03" y2="285.4" stroke="#444" stroke-width="1"/>
<text x="0" y="0" font-size="8.4" fill="#333" letter-spacing="0.636" transform="translate(326.13 293.50) translate(-11.20 0) scale(0.9 1)">110<tspan dy="-2.27" font-size="8.4">&#8226;</tspan><tspan dy="2.27">E</tspan></text>
<line x1="385.37" y1="282.4" x2="385.37" y2="285.4" stroke="#444" stroke-width="1"/>
<text x="0" y="0" font-size="8.4" fill="#333" letter-spacing="0.479" transform="translate(386.47 293.50) translate(-11.20 0) scale(0.9 1)">120<tspan dy="-2.27" font-size="8.4">&#8226;</tspan><tspan dy="2.27">E</tspan></text>
<text x="0" y="0" font-size="12" fill="#222" letter-spacing="1.493" word-spacing="2.895" stroke="#222" stroke-width="0.26" transform="translate(265.50 174.80) translate(0.00 0) scale(0.76 1)">e. EOF2 1984&#8722;2003 (29.4%)</text>
<clipPath id="clipg"><rect x="503.8" y="180.3" width="181.0" height="102.1"/></clipPath>
<pattern id="hpg" patternUnits="userSpaceOnUse" x="503.8" y="180.3" width="11.4" height="11.4"><path d="M0,0L11.4,11.4M11.4,0L0,11.4M-1,10.4L1,12.4M10.4,-1L12.4,1" stroke="#fff" stroke-width="1" stroke-opacity="0.9" fill="none"/></pattern>
<g clip-path="url(#clipg)">
<rect x="503.8" y="180.3" width="181.0" height="102.1" fill="#f2d296"/>
<path d="M499.3,175.3C530.9,173.6 657.4,173.9 689.0,175.3C720.6,176.8 693.5,182.3 689.0,183.9C684.6,185.5 671.2,184.7 662.3,184.9C653.4,185.2 644.5,185.3 635.6,185.5C626.7,185.7 617.8,185.7 608.9,186.0C600.0,186.3 588.8,186.6 582.1,187.1C575.5,187.5 573.2,188.2 568.8,188.7C564.3,189.1 562.1,189.8 555.4,189.8C548.8,189.8 535.4,189.2 528.7,188.7C522.0,188.2 520.3,187.1 515.4,186.5C510.5,186.0 502.0,187.4 499.3,185.5C496.7,183.6 467.7,177.0 499.3,175.3Z" fill="#f6eec6"/>
<path d="M556.2,175.3C558.0,173.3 565.9,173.3 567.7,175.3C569.5,177.3 568.1,185.1 567.2,187.4C566.3,189.6 563.8,188.7 562.1,188.7C560.4,188.7 558.0,189.6 557.0,187.4C556.1,185.1 554.5,177.3 556.2,175.3Z" fill="#ffffff"/>
<path d="M499.3,190.0C502.0,180.8 511.8,189.7 515.4,190.0C518.9,190.3 519.9,190.8 520.7,191.9C521.5,193.0 519.3,195.2 520.2,196.7C521.1,198.2 524.0,199.6 526.0,200.7C528.1,201.9 530.7,202.5 532.5,203.6C534.2,204.8 534.7,206.2 536.7,207.4C538.8,208.5 539.4,210.0 544.7,210.6C550.1,211.2 562.6,211.5 568.8,211.1C575.0,210.8 578.3,210.0 582.1,208.5C586.0,206.9 587.5,203.2 592.0,201.8C596.6,200.3 604.0,200.2 609.4,199.6C614.8,199.1 619.6,198.9 624.6,198.6C629.7,198.2 635.1,197.9 639.9,197.5C644.6,197.1 649.0,196.1 652.9,196.4C656.9,196.8 661.1,197.3 663.6,199.6C666.2,202.0 668.2,207.3 668.2,210.6C668.2,213.9 666.2,217.2 663.6,219.4C661.1,221.6 656.6,222.3 652.9,223.7C649.3,225.1 644.9,226.2 642.0,228.0C639.1,229.7 637.8,232.2 635.6,234.4C633.4,236.6 632.6,239.6 628.9,241.1C625.3,242.5 619.8,242.5 613.7,243.2C607.5,243.9 599.5,244.6 592.0,245.3C584.6,246.0 577.1,246.8 568.8,247.5C560.5,248.2 549.6,249.5 542.1,249.6C534.5,249.7 530.5,248.7 523.4,248.0C516.2,247.3 503.3,255.0 499.3,245.3C495.3,235.7 496.7,199.2 499.3,190.0Z" fill="#f0c25a"/>
<path d="M532.5,225.3C533.6,223.7 537.4,224.2 539.9,224.8C542.5,225.3 546.8,227.1 548.0,228.8C549.1,230.4 548.3,233.1 546.9,234.6C545.5,236.2 541.7,237.9 539.4,237.8C537.1,237.8 534.1,236.2 533.0,234.1C531.8,232.0 531.3,226.8 532.5,225.3Z" fill="#d3a022"/>
<path d="M621.4,226.9C621.9,225.7 624.3,225.7 625.4,226.1C626.5,226.5 627.8,228.1 628.1,229.3C628.4,230.5 627.9,232.7 627.0,233.3C626.1,233.9 623.7,234.1 622.8,233.0C621.8,232.0 621.0,228.0 621.4,226.9Z" fill="#d3a022"/>
<path d="M499.3,249.6C502.4,243.0 510.9,250.0 518.0,250.7C525.2,251.3 533.6,253.1 542.1,253.3C550.5,253.6 560.5,252.8 568.8,252.3C577.1,251.7 584.5,250.8 592.0,250.1C599.6,249.4 607.8,249.1 614.2,248.0C620.6,246.9 625.8,245.0 630.2,243.5C634.7,241.9 637.4,239.9 640.9,238.9C644.5,237.9 647.2,237.8 651.6,237.3C656.1,236.9 661.4,236.6 667.6,236.2C673.9,235.9 685.5,226.2 689.0,235.2C692.6,244.2 720.6,281.0 689.0,290.2C657.4,299.4 530.9,297.0 499.3,290.2C467.7,283.4 496.2,256.2 499.3,249.6Z" fill="#f6eec6"/>
<path d="M499.3,257.6C504.2,252.4 519.4,258.6 528.7,258.7C538.1,258.8 546.5,258.5 555.4,258.1C564.3,257.8 573.2,257.1 582.1,256.5C591.1,256.0 602.6,255.1 608.9,254.7C615.1,254.2 617.1,253.3 619.6,253.9C622.0,254.5 622.2,256.3 623.6,258.1C624.9,260.0 626.5,265.5 627.6,265.1C628.7,264.7 628.9,257.7 630.2,255.5C631.6,253.3 632.5,252.8 635.6,252.0C638.7,251.2 644.5,250.7 648.9,250.7C653.4,250.6 655.6,251.3 662.3,251.7C669.0,252.2 684.6,246.9 689.0,253.3C693.5,259.8 720.6,284.1 689.0,290.2C657.4,296.4 530.9,295.6 499.3,290.2C467.7,284.8 494.4,262.9 499.3,257.6Z" fill="#ffffff"/>
<path d="M499.3,175.3C530.9,162.2 657.4,163.8 689.0,175.3C720.6,186.9 692.6,233.7 689.0,244.8C685.5,255.9 673.9,242.2 667.6,242.1C661.4,242.0 657.0,243.3 651.6,244.3C646.3,245.2 640.9,246.9 635.6,248.0C630.2,249.1 624.9,250.0 619.6,250.7C614.2,251.3 609.8,251.3 603.5,251.7C597.3,252.2 590.2,252.7 582.1,253.3C574.1,254.0 564.3,255.1 555.4,255.5C546.5,255.8 538.1,255.7 528.7,255.5C519.4,255.3 504.2,267.5 499.3,254.1C494.4,240.8 467.7,188.5 499.3,175.3Z" fill="url(#hpg)"/>
<path d="M542.4,282.4 L543.6,280.9 L544.8,278.8 L547.8,277.3 L551.5,274.7 L553.9,274.2 L555.7,273.5 L558.1,274.7 L561.1,274.7 L563.5,275.5 L564.1,277.3 L562.9,279.3 L564.1,281.1 L566.2,281.1 L567.1,280.1 L566.5,278.1 L567.1,276.3 L570.2,275.0 L574.4,274.0 L578.0,273.2 L581.0,272.7 L583.4,271.2 L585.2,268.6 L586.5,270.4 L589.5,270.7 L591.9,268.9 L594.3,268.4 L597.9,268.1 L601.5,267.3 L604.0,265.6 L607.0,264.5 L610.0,262.5 L612.4,259.9 L616.0,258.9 L617.2,256.9 L620.2,254.8 L622.1,252.3 L622.1,250.2 L623.3,248.7 L626.3,246.7 L628.1,244.1 L629.9,241.6 L632.9,239.5 L634.1,236.5 L635.9,233.9 L636.5,231.9 L634.1,230.8 L631.7,229.8 L628.1,229.6 L630.5,228.3 L633.5,227.0 L635.9,226.2 L635.3,224.2 L632.3,222.9 L630.5,222.4 L633.5,222.2 L635.9,222.4 L632.3,220.6 L629.9,218.1 L629.3,216.0 L627.5,213.5 L626.3,210.9 L624.5,209.4 L621.5,208.4 L619.6,206.8 L620.8,204.8 L622.7,202.8 L625.7,200.7 L628.7,198.7 L631.7,197.1 L634.7,196.1 L639.5,195.6 L640.2,193.6 L637.7,193.1 L634.1,193.1 L631.1,192.0 L628.7,191.5 L626.3,192.6 L623.3,194.6 L620.2,195.1 L617.8,193.6 L618.4,191.5 L616.0,190.0 L612.4,189.0 L610.0,187.4 L610.6,184.9 L613.6,184.9 L617.2,184.9 L620.2,183.4 L622.1,180.8 L627.5,179.3 L630.5,177.2 L635.3,175.7 L638.3,177.7 L635.9,180.3 L634.1,182.9 L632.3,183.9 L631.1,185.9 L633.5,186.4 L635.9,185.4 L638.3,183.4 L642.0,182.3 L646.2,181.3 L650.4,180.8 L652.8,182.3 L655.8,182.9 L657.0,185.4 L655.2,187.4 L658.9,189.0 L661.3,191.5 L664.3,193.1 L664.3,195.6 L661.9,197.1 L663.7,199.7 L664.9,201.7 L663.1,204.3 L662.5,207.9 L664.3,209.4 L667.9,207.9 L671.5,206.8 L675.1,206.3 L678.2,205.3 L680.6,204.3 L681.8,201.7 L681.2,198.7 L681.2,195.6 L679.4,192.6 L676.4,189.0 L673.9,186.4 L670.3,184.4 L669.7,181.8 L672.7,180.3 L676.4,178.3" fill="none" stroke="#5cc8d0" stroke-width="0.9" stroke-linejoin="round"/>
<path d="M625.1,267.1 L625.4,264.0 L626.9,260.4 L628.7,258.4 L630.5,256.9 L633.5,255.3 L635.9,256.4 L635.3,259.4 L634.1,262.0 L632.9,265.6 L630.5,268.6 L629.6,272.4 L628.7,270.7 L626.3,269.1 L625.1,267.1" fill="none" stroke="#5cc8d0" stroke-width="0.9" stroke-linejoin="round"/>
<path d="M661.9,214.5 L663.7,213.2 L666.1,213.7 L664.3,215.0 L661.9,214.5" fill="none" stroke="#5cc8d0" stroke-width="0.9" stroke-linejoin="round"/>
<path d="M686.0,211.4 L683.6,213.0 L682.4,215.0 L683.6,217.1 L683.0,218.6 L686.0,218.1 L686.6,220.1 L686.0,224.2" fill="none" stroke="#5cc8d0" stroke-width="0.9" stroke-linejoin="round"/>
<path d="M680.6,207.4 L680.0,209.4 L681.2,209.9 L681.8,207.9 L680.6,207.4" fill="none" stroke="#5cc8d0" stroke-width="0.9" stroke-linejoin="round"/>
<path d="M556.3,282.9 L559.3,282.4 L562.3,282.1 L565.3,281.9 L568.4,282.4" fill="none" stroke="#5cc8d0" stroke-width="0.9" stroke-linejoin="round"/>
<path d="M503.8,195.1 L506.2,194.6 L508.0,196.1 L506.8,197.7 L503.8,196.9" fill="none" stroke="#5cc8d0" stroke-width="0.9" stroke-linejoin="round"/>
<path d="M623.9,225.2 L625.7,223.7 L627.5,224.7 L626.3,226.2 L623.9,225.2" fill="none" stroke="#5cc8d0" stroke-width="0.9" stroke-linejoin="round"/>
<path d="M614.2,215.0 L616.0,213.5 L617.8,214.5 L616.6,216.0 L614.2,215.0" fill="none" stroke="#5cc8d0" stroke-width="0.9" stroke-linejoin="round"/>
<path d="M552.1,274.5 L548.4,274.0 L544.2,272.2 L543.6,270.1 L544.8,268.1 L540.0,267.3 L536.4,265.6 L532.8,267.1 L529.7,268.6 L527.3,269.6 L523.7,268.1 L521.3,269.6 L518.3,269.1 L516.5,270.1" fill="none" stroke="#5cc8d0" stroke-width="0.9" stroke-linejoin="round"/>
<path d="M516.5,270.1 L514.1,271.2 L513.5,274.7 L511.0,276.3 L509.8,274.2 L506.8,274.7 L505.0,273.7 L503.2,273.2" fill="none" stroke="#5cc8d0" stroke-width="0.9" stroke-linejoin="round"/>
<path d="M516.5,270.1 L517.7,273.2 L520.7,274.7 L522.5,277.3 L526.7,278.8 L530.3,280.4 L531.6,282.4" fill="none" stroke="#5cc8d0" stroke-width="0.9" stroke-linejoin="round"/>
<path d="M504.4,280.9 L506.8,278.3 L509.8,275.8" fill="none" stroke="#5cc8d0" stroke-width="0.9" stroke-linejoin="round"/>
<path d="M503.8,246.9 L504.2,246.8 L504.5,246.6 L504.3,246.1 L504.6,245.9 L505.2,245.7 L505.1,245.1 L505.5,244.8 L505.6,244.4 L506.1,244.6 L506.1,244.1 L506.6,244.3 L506.6,243.9 L506.6,244.3 L506.2,244.8 L506.3,245.2 L506.8,245.6 L506.4,246.1 L506.5,246.8 L505.5,247.0 L505.6,247.7 L505.4,248.2 L505.9,248.5 L506.3,248.9 L505.9,249.4 L506.8,249.6 L507.5,249.9 L508.5,249.6 L509.2,250.2 L510.5,250.3 L511.4,249.3 L512.7,249.4 L513.8,248.9 L514.0,249.6 L514.5,250.1 L515.2,250.4 L515.9,250.7 L517.0,250.4 L518.2,250.9 L519.3,250.5 L520.4,250.5 L520.9,249.9 L521.6,249.6 L522.1,249.0 L522.7,248.5 L523.2,247.6 L523.3,246.6 L523.2,245.6 L523.0,244.6 L523.7,243.5 L524.7,242.6 L525.6,241.7 L526.3,240.6 L527.6,239.9 L529.0,239.3 L530.4,238.8 L531.6,238.0 L532.8,237.6 L534.1,237.5 L535.5,237.7 L536.8,237.3 L538.2,236.5 L539.7,235.8 L541.0,234.8 L542.7,234.4 L544.2,233.5 L546.1,233.1 L547.4,231.8 L549.3,231.4 L550.7,230.8 L551.6,229.8 L552.5,228.7 L553.9,228.1 L555.5,227.7 L556.8,226.8 L558.5,226.5 L559.8,225.5 L561.8,225.3 L563.7,225.2 L565.7,225.4 L567.7,225.5 L568.9,225.6 L569.6,226.4 L570.7,226.5 L571.6,227.1 L573.5,228.1 L575.3,229.2 L577.1,230.4 L578.9,231.4 L580.2,231.6 L581.3,232.0 L582.2,232.8 L583.3,233.3 L584.5,232.4 L586.2,232.2 L587.2,231.0 L588.6,230.4 L589.4,229.7 L590.0,228.8 L591.0,228.4 L592.1,228.0 L592.8,228.3 L593.5,228.4 L594.3,228.3 L594.9,228.6 L596.1,229.8 L597.8,230.4 L599.1,231.5 L600.8,232.1 L602.3,231.9 L603.7,231.3 L604.7,230.2 L606.1,229.8 L607.5,229.2 L608.6,228.2 L609.6,227.3 L610.7,226.3 L611.5,225.4 L613.0,225.4 L613.8,224.5 L614.8,223.9 L615.6,222.9 L616.2,221.7 L617.2,220.7 L618.3,219.9 L619.4,219.4 L620.7,219.8 L621.9,219.5 L623.0,219.3 L624.1,219.8 L625.5,219.8 L626.7,220.2 L627.7,221.0 L628.8,221.6 L630.0,221.8 L631.2,222.0 L632.4,222.0 L632.8,222.6 L633.6,222.7 L634.2,223.0 L634.7,223.4" fill="none" stroke="#4a5fe0" stroke-width="0.9" stroke-linejoin="round"/>
<rect x="534.0" y="190.5" width="108.6" height="81.7" fill="none" stroke="#f44242" stroke-width="1"/>
</g>
<rect x="503.8" y="180.3" width="181.0" height="102.1" fill="none" stroke="#3a3a3a" stroke-width="1"/>
<line x1="500.8" y1="200.72" x2="503.8" y2="200.72" stroke="#444" stroke-width="1"/>
<text x="0" y="0" font-size="8.5" fill="#333" letter-spacing="0.556" transform="translate(499.40 203.92) translate(-18.60 0) scale(0.9 1)">36<tspan dy="-2.29" font-size="8.5">&#8226;</tspan><tspan dy="2.29">N</tspan></text>
<line x1="500.8" y1="231.35" x2="503.8" y2="231.35" stroke="#444" stroke-width="1"/>
<text x="0" y="0" font-size="8.5" fill="#333" letter-spacing="0.556" transform="translate(499.40 234.55) translate(-18.60 0) scale(0.9 1)">30<tspan dy="-2.29" font-size="8.5">&#8226;</tspan><tspan dy="2.29">N</tspan></text>
<line x1="500.8" y1="261.98" x2="503.8" y2="261.98" stroke="#444" stroke-width="1"/>
<text x="0" y="0" font-size="8.5" fill="#333" letter-spacing="0.556" transform="translate(499.40 265.18) translate(-18.60 0) scale(0.9 1)">24<tspan dy="-2.29" font-size="8.5">&#8226;</tspan><tspan dy="2.29">N</tspan></text>
<line x1="503.80" y1="282.4" x2="503.80" y2="285.4" stroke="#444" stroke-width="1"/>
<text x="0" y="0" font-size="8.4" fill="#333" letter-spacing="0.479" transform="translate(504.90 293.50) translate(-11.20 0) scale(0.9 1)">100<tspan dy="-2.27" font-size="8.4">&#8226;</tspan><tspan dy="2.27">E</tspan></text>
<line x1="564.13" y1="282.4" x2="564.13" y2="285.4" stroke="#444" stroke-width="1"/>
<text x="0" y="0" font-size="8.4" fill="#333" letter-spacing="0.636" transform="translate(565.23 293.50) translate(-11.20 0) scale(0.9 1)">110<tspan dy="-2.27" font-size="8.4">&#8226;</tspan><tspan dy="2.27">E</tspan></text>
<line x1="624.47" y1="282.4" x2="624.47" y2="285.4" stroke="#444" stroke-width="1"/>
<text x="0" y="0" font-size="8.4" fill="#333" letter-spacing="0.479" transform="translate(625.57 293.50) translate(-11.20 0) scale(0.9 1)">120<tspan dy="-2.27" font-size="8.4">&#8226;</tspan><tspan dy="2.27">E</tspan></text>
<text x="0" y="0" font-size="12" fill="#222" letter-spacing="1.498" word-spacing="2.895" stroke="#222" stroke-width="0.26" transform="translate(504.60 174.80) translate(0.00 0) scale(0.76 1)">g. EOF1 2004&#8722;2023 (44.7%)</text>
<clipPath id="clipc"><rect x="25.5" y="333.5" width="181.0" height="102.1"/></clipPath>
<pattern id="hpc" patternUnits="userSpaceOnUse" x="25.5" y="333.5" width="11.4" height="11.4"><path d="M0,0L11.4,11.4M11.4,0L0,11.4M-1,10.4L1,12.4M10.4,-1L12.4,1" stroke="#fff" stroke-width="1" stroke-opacity="0.9" fill="none"/></pattern>
<g clip-path="url(#clipc)">
<rect x="25.5" y="333.5" width="181.0" height="102.1" fill="#ffffff"/>
<path d="M21.3,328.3C53.3,322.5 181.1,320.2 213.0,328.3C245.0,336.4 219.3,368.4 213.0,376.9C206.7,385.4 186.0,377.9 175.2,379.1C164.4,380.2 156.8,382.2 148.2,383.7C139.7,385.1 131.1,386.8 123.9,387.7C116.7,388.7 111.9,388.6 105.0,389.3C98.1,390.1 91.0,391.2 82.3,392.0C73.7,392.8 60.0,394.9 53.2,394.2C46.4,393.5 44.2,389.9 41.6,387.7C38.9,385.5 38.1,383.6 37.2,381.0C36.3,378.3 37.3,374.3 36.2,371.8C35.0,369.3 31.9,367.2 30.2,365.8C28.5,364.5 27.5,364.2 26.1,363.7C24.6,363.2 22.1,368.8 21.3,362.9C20.5,357.0 -10.7,334.1 21.3,328.3Z" fill="#d4ebd2"/>
<path d="M21.3,328.3C53.3,323.4 181.1,321.1 213.0,328.3C245.0,335.5 216.6,364.1 213.0,371.5C209.4,378.9 198.5,372.4 191.4,372.9C184.4,373.3 179.2,373.7 170.6,374.2C162.0,374.7 147.6,374.7 139.9,375.8C132.1,377.0 131.1,379.7 123.9,381.0C116.8,382.2 103.8,382.8 96.9,383.4C90.0,384.0 87.2,383.9 82.3,384.7C77.5,385.6 72.6,387.5 67.7,388.3C62.9,389.0 57.2,389.6 53.2,389.3C49.1,389.1 44.7,387.6 43.4,386.6C42.2,385.7 43.9,384.6 45.6,383.7C47.3,382.7 52.7,382.9 53.7,381.0C54.7,379.0 52.2,374.7 51.5,371.8C50.9,368.9 49.8,365.7 49.7,363.7C49.5,361.7 49.7,361.2 50.5,359.6C51.2,358.1 53.9,356.2 54.2,354.5C54.6,352.8 54.2,350.3 52.6,349.4C51.0,348.4 47.6,348.3 44.5,348.8C41.5,349.3 37.3,351.0 34.3,352.3C31.2,353.6 28.2,355.8 26.1,356.7C23.9,357.5 22.1,362.2 21.3,357.5C20.5,352.7 -10.7,333.2 21.3,328.3Z" fill="#aad897"/>
<path d="M64.8,357.5C64.5,355.6 66.3,355.3 68.0,353.4C69.7,351.6 72.2,348.6 75.0,346.4C77.9,344.2 82.2,341.4 85.3,340.2C88.5,339.0 90.7,338.8 93.9,339.1C97.2,339.4 100.6,341.3 105.0,341.8C109.5,342.3 117.4,343.5 120.7,342.3C123.9,341.2 123.5,337.4 124.5,335.1C125.4,332.7 111.9,329.4 126.6,328.3C141.4,327.2 198.6,322.9 213.0,328.3C227.4,333.7 215.7,355.3 213.0,360.7C210.3,366.1 202.2,360.6 196.8,360.7C191.5,360.8 185.3,360.5 180.9,361.5C176.5,362.6 175.2,365.7 170.6,366.9C166.1,368.1 158.8,368.3 153.6,368.8C148.5,369.3 145.3,369.4 139.9,369.9C134.4,370.4 126.5,371.4 120.7,371.8C114.9,372.1 110.1,372.0 105.0,372.0C99.9,372.0 94.4,372.2 89.9,371.8C85.4,371.3 81.3,370.5 78.0,369.3C74.7,368.2 72.1,366.7 69.9,364.8C67.7,362.8 65.1,359.4 64.8,357.5Z" fill="#6fbd55"/>
<path d="M53.2,376.9C53.4,375.5 56.5,374.1 59.1,373.4C61.7,372.7 66.5,372.4 68.6,372.9C70.6,373.4 71.5,375.0 71.3,376.4C71.0,377.7 69.5,380.1 67.2,381.0C65.0,381.9 60.1,382.4 57.8,381.8C55.4,381.1 52.9,378.3 53.2,376.9Z" fill="#6fbd55"/>
<path d="M80.2,358.0C80.2,357.3 82.9,356.3 84.8,356.1C86.7,355.9 90.5,356.3 91.5,356.9C92.5,357.5 92.1,359.1 91.0,359.6C89.8,360.2 86.6,360.4 84.8,360.2C83.0,359.9 80.2,358.7 80.2,358.0Z" fill="#3e7a32"/>
<path d="M113.7,356.7C113.5,355.8 116.1,354.8 117.2,354.8C118.2,354.7 120.0,355.6 120.1,356.4C120.3,357.2 119.1,359.6 118.0,359.6C116.9,359.7 113.8,357.5 113.7,356.7Z" fill="#3e7a32"/>
<path d="M88.8,357.5C89.3,356.9 91.5,356.0 92.1,356.4C92.6,356.7 92.5,359.1 92.1,359.6C91.6,360.2 89.9,360.0 89.4,359.6C88.8,359.3 88.4,358.0 88.8,357.5Z" fill="#3e7a32"/>
<path d="M29.9,404.5C31.1,403.3 33.0,402.7 35.6,402.3C38.3,401.8 41.7,401.3 45.9,401.8C50.0,402.2 56.3,404.0 60.5,404.7C64.6,405.4 67.6,406.3 70.7,406.1C73.9,405.8 76.9,404.1 79.4,403.1C81.8,402.1 82.4,400.9 85.3,400.1C88.2,399.4 93.5,399.5 96.9,398.8C100.3,398.1 102.7,396.6 105.8,395.8C109.0,395.0 112.7,394.6 115.8,394.2C119.0,393.7 120.8,393.4 124.7,393.1C128.6,392.8 135.4,392.2 139.3,392.3C143.2,392.4 146.3,392.9 148.0,393.7C149.6,394.4 149.8,394.9 149.3,396.6C148.8,398.3 147.1,401.2 145.0,403.9C142.8,406.6 139.3,410.4 136.3,412.8C133.4,415.3 130.4,417.1 127.4,418.5C124.5,419.9 121.7,420.7 118.8,421.5C115.9,422.3 112.3,422.9 109.9,423.4C107.4,423.9 108.1,423.8 104.2,424.4C100.3,425.1 90.8,426.0 86.7,427.1C82.5,428.3 81.3,429.5 79.4,431.5C77.5,433.4 84.1,437.8 75.3,439.0C66.5,440.3 34.6,442.2 26.7,439.0C18.8,435.9 27.7,425.1 28.1,420.1C28.4,415.2 28.5,411.9 28.9,409.3C29.2,406.7 28.8,405.6 29.9,404.5Z" fill="#f6eec6"/>
<path d="M143.6,412.0C144.3,410.4 146.3,409.5 148.2,409.3C150.1,409.1 153.5,409.3 155.0,410.7C156.4,412.0 157.1,415.1 156.9,417.4C156.6,419.7 155.3,423.3 153.6,424.4C152.0,425.6 148.4,425.4 146.9,424.4C145.3,423.5 144.7,420.8 144.2,418.8C143.6,416.7 143.0,413.6 143.6,412.0Z" fill="#f6eec6"/>
<path d="M168.5,406.9C169.5,404.0 172.1,402.0 175.8,400.9C179.4,399.9 186.2,399.9 190.4,400.4C194.5,400.9 198.0,402.1 200.6,403.9C203.3,405.7 205.3,408.3 206.3,411.2C207.2,414.1 207.2,418.8 206.3,421.5C205.3,424.2 203.3,426.2 200.6,427.4C198.0,428.6 194.5,429.0 190.4,428.8C186.2,428.5 179.2,427.5 175.8,425.8C172.3,424.1 171.0,421.6 169.8,418.5C168.6,415.3 167.5,409.8 168.5,406.9Z" fill="#f6eec6"/>
<path d="M72.1,419.3C73.5,417.6 79.4,414.2 82.3,412.0C85.3,409.8 87.2,407.7 89.6,406.1C92.1,404.5 94.2,403.3 96.9,402.3C99.6,401.3 103.7,400.4 105.8,400.1C108.0,399.9 108.0,401.3 109.9,400.9C111.8,400.6 113.5,398.8 117.2,398.2C120.8,397.7 127.8,397.2 131.8,397.4C135.7,397.7 139.4,398.2 140.7,399.6C141.9,400.9 140.8,403.6 139.3,405.5C137.8,407.5 134.7,409.5 131.8,411.2C128.8,412.9 125.4,414.6 121.8,415.8C118.1,417.0 114.0,416.9 109.9,418.5C105.7,420.1 101.5,424.4 96.9,425.5C92.3,426.6 86.2,425.6 82.3,425.0C78.5,424.4 75.4,423.0 73.7,422.0C72.0,421.1 70.6,421.0 72.1,419.3Z" fill="#f2d296"/>
<path d="M56.9,412.0C57.4,411.2 59.0,410.3 60.5,410.1C61.9,409.9 64.8,410.1 65.9,410.9C66.9,411.8 67.3,414.3 66.7,415.3C66.0,416.2 63.3,416.9 61.8,416.9C60.3,416.9 58.3,416.1 57.5,415.3C56.7,414.4 56.5,412.9 56.9,412.0Z" fill="#f2d296"/>
<path d="M21.3,328.3C53.3,323.4 181.1,321.1 213.0,328.3C245.0,335.5 216.6,364.1 213.0,371.5C209.4,378.9 198.5,372.4 191.4,372.9C184.4,373.3 179.2,373.7 170.6,374.2C162.0,374.7 147.6,374.7 139.9,375.8C132.1,377.0 131.1,379.7 123.9,381.0C116.8,382.2 103.8,382.8 96.9,383.4C90.0,384.0 87.2,383.9 82.3,384.7C77.5,385.6 72.6,387.5 67.7,388.3C62.9,389.0 57.2,389.6 53.2,389.3C49.1,389.1 44.7,387.6 43.4,386.6C42.2,385.7 43.9,384.6 45.6,383.7C47.3,382.7 52.7,382.9 53.7,381.0C54.7,379.0 52.2,374.7 51.5,371.8C50.9,368.9 49.8,365.7 49.7,363.7C49.5,361.7 49.7,361.2 50.5,359.6C51.2,358.1 53.9,356.2 54.2,354.5C54.6,352.8 54.2,350.3 52.6,349.4C51.0,348.4 47.6,348.3 44.5,348.8C41.5,349.3 37.3,351.0 34.3,352.3C31.2,353.6 28.2,355.8 26.1,356.7C23.9,357.5 22.1,362.2 21.3,357.5C20.5,352.7 -10.7,333.2 21.3,328.3Z" fill="url(#hpc)"/>
<path d="M64.5,412.0C67.2,410.0 73.8,407.9 78.0,406.6C82.2,405.4 85.0,405.7 89.6,404.5C94.3,403.2 101.0,400.3 105.8,399.1C110.6,397.8 114.2,397.5 118.5,397.2C122.9,396.8 128.2,396.6 132.0,396.9C135.8,397.2 140.1,397.4 141.5,399.1C142.8,400.7 141.7,404.5 140.1,406.6C138.5,408.8 135.1,410.3 132.0,412.0C129.0,413.7 125.4,415.5 121.8,416.9C118.1,418.2 113.6,418.9 109.9,420.1C106.2,421.3 103.1,422.4 99.6,424.2C96.1,426.0 92.4,429.8 88.8,430.9C85.2,432.0 81.6,431.8 78.0,430.9C74.4,430.0 69.9,427.5 67.2,425.5C64.5,423.5 62.3,421.0 61.8,418.8C61.4,416.5 61.8,414.0 64.5,412.0Z" fill="url(#hpc)"/>
<path d="M171.2,409.3C172.2,406.7 174.7,404.5 177.9,403.4C181.1,402.2 186.8,402.1 190.4,402.6C194.0,403.0 197.2,404.5 199.5,406.1C201.9,407.6 203.6,409.4 204.4,412.0C205.2,414.6 205.2,419.1 204.4,421.5C203.6,423.8 201.9,425.1 199.5,426.1C197.2,427.0 194.1,427.4 190.4,427.1C186.6,426.9 179.9,425.8 176.8,424.4C173.8,423.0 172.9,421.3 172.0,418.8C171.0,416.2 170.2,411.9 171.2,409.3Z" fill="url(#hpc)"/>
<path d="M64.1,435.6 L65.3,434.1 L66.5,432.0 L69.5,430.5 L73.2,427.9 L75.6,427.4 L77.4,426.7 L79.8,427.9 L82.8,427.9 L85.2,428.7 L85.8,430.5 L84.6,432.5 L85.8,434.3 L87.9,434.3 L88.8,433.3 L88.2,431.3 L88.8,429.5 L91.9,428.2 L96.1,427.2 L99.7,426.4 L102.7,425.9 L105.1,424.4 L107.0,421.8 L108.2,423.6 L111.2,423.9 L113.6,422.1 L116.0,421.6 L119.6,421.3 L123.2,420.5 L125.7,418.8 L128.7,417.7 L131.7,415.7 L134.1,413.1 L137.7,412.1 L138.9,410.1 L141.9,408.0 L143.8,405.5 L143.8,403.4 L145.0,401.9 L148.0,399.9 L149.8,397.3 L151.6,394.8 L154.6,392.7 L155.8,389.7 L157.6,387.1 L158.2,385.1 L155.8,384.0 L153.4,383.0 L149.8,382.8 L152.2,381.5 L155.2,380.2 L157.6,379.4 L157.0,377.4 L154.0,376.1 L152.2,375.6 L155.2,375.4 L157.6,375.6 L154.0,373.8 L151.6,371.3 L151.0,369.2 L149.2,366.7 L148.0,364.1 L146.2,362.6 L143.1,361.6 L141.3,360.0 L142.5,358.0 L144.4,356.0 L147.4,353.9 L150.4,351.9 L153.4,350.3 L156.4,349.3 L161.2,348.8 L161.9,346.8 L159.4,346.3 L155.8,346.3 L152.8,345.2 L150.4,344.7 L148.0,345.8 L145.0,347.8 L141.9,348.3 L139.5,346.8 L140.1,344.7 L137.7,343.2 L134.1,342.2 L131.7,340.6 L132.3,338.1 L135.3,338.1 L138.9,338.1 L141.9,336.6 L143.8,334.0 L149.2,332.5 L152.2,330.4 L157.0,328.9 L160.0,330.9 L157.6,333.5 L155.8,336.1 L154.0,337.1 L152.8,339.1 L155.2,339.6 L157.6,338.6 L160.0,336.6 L163.7,335.5 L167.9,334.5 L172.1,334.0 L174.5,335.5 L177.5,336.1 L178.7,338.6 L176.9,340.6 L180.6,342.2 L183.0,344.7 L186.0,346.3 L186.0,348.8 L183.6,350.3 L185.4,352.9 L186.6,354.9 L184.8,357.5 L184.2,361.1 L186.0,362.6 L189.6,361.1 L193.2,360.0 L196.8,359.5 L199.9,358.5 L202.3,357.5 L203.5,354.9 L202.9,351.9 L202.9,348.8 L201.1,345.8 L198.1,342.2 L195.6,339.6 L192.0,337.6 L191.4,335.0 L194.4,333.5 L198.1,331.5" fill="none" stroke="#5cc8d0" stroke-width="0.9" stroke-linejoin="round"/>
<path d="M146.8,420.3 L147.1,417.2 L148.6,413.6 L150.4,411.6 L152.2,410.1 L155.2,408.5 L157.6,409.6 L157.0,412.6 L155.8,415.2 L154.6,418.8 L152.2,421.8 L151.3,425.6 L150.4,423.9 L148.0,422.3 L146.8,420.3" fill="none" stroke="#5cc8d0" stroke-width="0.9" stroke-linejoin="round"/>
<path d="M183.6,367.7 L185.4,366.4 L187.8,366.9 L186.0,368.2 L183.6,367.7" fill="none" stroke="#5cc8d0" stroke-width="0.9" stroke-linejoin="round"/>
<path d="M207.7,364.6 L205.3,366.2 L204.1,368.2 L205.3,370.3 L204.7,371.8 L207.7,371.3 L208.3,373.3 L207.7,377.4" fill="none" stroke="#5cc8d0" stroke-width="0.9" stroke-linejoin="round"/>
<path d="M202.3,360.6 L201.7,362.6 L202.9,363.1 L203.5,361.1 L202.3,360.6" fill="none" stroke="#5cc8d0" stroke-width="0.9" stroke-linejoin="round"/>
<path d="M78.0,436.1 L81.0,435.6 L84.0,435.3 L87.0,435.1 L90.1,435.6" fill="none" stroke="#5cc8d0" stroke-width="0.9" stroke-linejoin="round"/>
<path d="M25.5,348.3 L27.9,347.8 L29.7,349.3 L28.5,350.9 L25.5,350.1" fill="none" stroke="#5cc8d0" stroke-width="0.9" stroke-linejoin="round"/>
<path d="M145.6,378.4 L147.4,376.9 L149.2,377.9 L148.0,379.4 L145.6,378.4" fill="none" stroke="#5cc8d0" stroke-width="0.9" stroke-linejoin="round"/>
<path d="M135.9,368.2 L137.7,366.7 L139.5,367.7 L138.3,369.2 L135.9,368.2" fill="none" stroke="#5cc8d0" stroke-width="0.9" stroke-linejoin="round"/>
<path d="M73.8,427.7 L70.1,427.2 L65.9,425.4 L65.3,423.3 L66.5,421.3 L61.7,420.5 L58.1,418.8 L54.5,420.3 L51.4,421.8 L49.0,422.8 L45.4,421.3 L43.0,422.8 L40.0,422.3 L38.2,423.3" fill="none" stroke="#5cc8d0" stroke-width="0.9" stroke-linejoin="round"/>
<path d="M38.2,423.3 L35.8,424.4 L35.2,427.9 L32.7,429.5 L31.5,427.4 L28.5,427.9 L26.7,426.9 L24.9,426.4" fill="none" stroke="#5cc8d0" stroke-width="0.9" stroke-linejoin="round"/>
<path d="M38.2,423.3 L39.4,426.4 L42.4,427.9 L44.2,430.5 L48.4,432.0 L52.0,433.6 L53.3,435.6" fill="none" stroke="#5cc8d0" stroke-width="0.9" stroke-linejoin="round"/>
<path d="M26.1,434.1 L28.5,431.5 L31.5,429.0" fill="none" stroke="#5cc8d0" stroke-width="0.9" stroke-linejoin="round"/>
<rect x="73.8" y="343.7" width="102.6" height="25.5" fill="none" stroke="#222" stroke-width="1"/>
<rect x="103.9" y="389.7" width="48.3" height="35.7" fill="none" stroke="#222" stroke-width="1"/>
</g>
<text x="0" y="0" font-size="9.0" fill="#222" letter-spacing="0.944" stroke="#222" stroke-width="0.12" transform="translate(31.90 421.30) translate(0.00 0) scale(0.85 1)">SR=0.97</text>
<text x="0" y="0" font-size="9.0" fill="#222" letter-spacing="0.988" stroke="#222" stroke-width="0.12" transform="translate(31.90 430.30) translate(0.00 0) scale(0.85 1)">p&lt;0.01</text>
<rect x="25.5" y="333.5" width="181.0" height="102.1" fill="none" stroke="#3a3a3a" stroke-width="1"/>
<line x1="22.5" y1="353.92" x2="25.5" y2="353.92" stroke="#444" stroke-width="1"/>
<text x="0" y="0" font-size="8.5" fill="#333" letter-spacing="0.556" transform="translate(21.10 357.12) translate(-18.60 0) scale(0.9 1)">36<tspan dy="-2.29" font-size="8.5">&#8226;</tspan><tspan dy="2.29">N</tspan></text>
<line x1="22.5" y1="384.55" x2="25.5" y2="384.55" stroke="#444" stroke-width="1"/>
<text x="0" y="0" font-size="8.5" fill="#333" letter-spacing="0.556" transform="translate(21.10 387.75) translate(-18.60 0) scale(0.9 1)">30<tspan dy="-2.29" font-size="8.5">&#8226;</tspan><tspan dy="2.29">N</tspan></text>
<line x1="22.5" y1="415.18" x2="25.5" y2="415.18" stroke="#444" stroke-width="1"/>
<text x="0" y="0" font-size="8.5" fill="#333" letter-spacing="0.556" transform="translate(21.10 418.38) translate(-18.60 0) scale(0.9 1)">24<tspan dy="-2.29" font-size="8.5">&#8226;</tspan><tspan dy="2.29">N</tspan></text>
<line x1="25.50" y1="435.6" x2="25.50" y2="438.6" stroke="#444" stroke-width="1"/>
<text x="0" y="0" font-size="8.4" fill="#333" letter-spacing="0.479" transform="translate(26.60 446.70) translate(-11.20 0) scale(0.9 1)">100<tspan dy="-2.27" font-size="8.4">&#8226;</tspan><tspan dy="2.27">E</tspan></text>
<line x1="85.83" y1="435.6" x2="85.83" y2="438.6" stroke="#444" stroke-width="1"/>
<text x="0" y="0" font-size="8.4" fill="#333" letter-spacing="0.636" transform="translate(86.93 446.70) translate(-11.20 0) scale(0.9 1)">110<tspan dy="-2.27" font-size="8.4">&#8226;</tspan><tspan dy="2.27">E</tspan></text>
<line x1="146.17" y1="435.6" x2="146.17" y2="438.6" stroke="#444" stroke-width="1"/>
<text x="0" y="0" font-size="8.4" fill="#333" letter-spacing="0.479" transform="translate(147.27 446.70) translate(-11.20 0) scale(0.9 1)">120<tspan dy="-2.27" font-size="8.4">&#8226;</tspan><tspan dy="2.27">E</tspan></text>
<line x1="206.50" y1="435.6" x2="206.50" y2="438.6" stroke="#444" stroke-width="1"/>
<text x="0" y="0" font-size="8.4" fill="#333" letter-spacing="0.479" transform="translate(207.60 446.70) translate(-11.20 0) scale(0.9 1)">130<tspan dy="-2.27" font-size="8.4">&#8226;</tspan><tspan dy="2.27">E</tspan></text>
<text x="0" y="0" font-size="12" fill="#222" letter-spacing="1.285" word-spacing="2.895" stroke="#222" stroke-width="0.26" transform="translate(26.30 328.00) translate(0.00 0) scale(0.76 1)">c. SNMD composite</text>
<clipPath id="clipf"><rect x="264.7" y="333.5" width="181.0" height="102.1"/></clipPath>
<pattern id="hpf" patternUnits="userSpaceOnUse" x="264.7" y="333.5" width="11.4" height="11.4"><path d="M0,0L11.4,11.4M11.4,0L0,11.4M-1,10.4L1,12.4M10.4,-1L12.4,1" stroke="#fff" stroke-width="1" stroke-opacity="0.9" fill="none"/></pattern>
<g clip-path="url(#clipf)">
<rect x="264.7" y="333.5" width="181.0" height="102.1" fill="#ffffff"/>
<path d="M260.3,356.9C262.1,361.7 268.0,356.9 271.1,357.2C274.3,357.5 277.2,357.5 279.2,358.5C281.2,359.6 282.9,361.2 283.3,363.4C283.6,365.6 281.9,368.9 281.4,371.5C280.9,374.1 279.7,376.1 280.3,378.8C280.8,381.5 282.0,384.9 284.6,387.4C287.2,390.0 292.0,392.7 295.7,393.9C299.3,395.2 302.9,395.0 306.5,395.0C310.1,395.0 313.7,394.6 317.3,393.9C320.9,393.2 324.5,391.6 328.1,390.7C331.7,389.8 334.4,389.6 338.9,388.5C343.3,387.4 348.8,385.2 354.8,384.2C360.8,383.2 367.9,382.7 374.8,382.3C381.7,381.9 389.2,382.3 396.4,382.0C403.6,381.8 408.7,381.5 418.0,381.0C427.3,380.4 446.4,387.6 452.0,378.8C457.7,370.0 484.0,336.7 452.0,328.3C420.1,319.9 292.3,323.5 260.3,328.3C228.3,333.1 258.5,352.1 260.3,356.9Z" fill="#d4ebd2"/>
<path d="M260.3,328.3C292.3,325.7 420.1,320.6 452.0,328.3C484.0,336.0 457.7,366.4 452.0,374.5C446.4,382.5 427.3,376.1 418.0,376.6C408.7,377.2 403.6,377.5 396.4,377.7C389.2,377.9 381.4,377.4 374.8,377.7C368.2,378.0 363.0,378.4 357.0,379.3C351.0,380.2 343.7,382.1 338.9,383.1C334.1,384.1 331.7,384.6 328.1,385.3C324.5,386.0 321.6,386.7 317.3,387.4C313.0,388.2 306.5,389.4 302.2,389.6C297.8,389.8 294.3,390.0 291.4,388.5C288.4,387.1 285.4,384.0 284.6,381.0C283.8,377.9 285.6,373.8 286.8,370.2C287.9,366.6 291.0,362.6 291.4,359.4C291.7,356.1 290.8,352.8 288.9,350.4C287.1,348.1 284.2,346.1 280.3,345.0C276.3,344.0 268.5,344.1 265.2,344.0C261.8,343.8 261.1,346.6 260.3,344.0C259.5,341.4 228.3,330.9 260.3,328.3Z" fill="#aad897"/>
<path d="M304.3,356.9C305.0,354.7 307.6,352.1 310.8,350.4C314.0,348.8 319.1,348.3 323.8,347.2C328.4,346.1 333.3,344.9 338.9,344.0C344.4,343.1 350.7,342.6 357.0,341.8C363.2,341.0 369.9,339.8 376.4,339.1C383.0,338.4 392.4,339.3 396.4,337.5C400.5,335.7 391.5,329.8 400.7,328.3C410.0,326.8 443.5,322.9 452.0,328.3C460.6,333.7 452.9,355.1 452.0,360.4C451.2,365.8 451.1,360.3 446.9,360.4C442.7,360.6 433.2,361.2 426.9,361.5C420.7,361.9 415.2,362.2 409.4,362.6C403.6,363.0 397.1,362.8 392.1,363.7C387.0,364.6 383.5,366.9 379.1,368.0C374.8,369.1 370.3,369.4 365.9,370.2C361.5,370.9 356.3,372.0 352.9,372.3C349.6,372.7 349.1,372.5 345.6,372.3C342.2,372.1 336.0,371.8 332.4,371.2C328.8,370.7 326.6,370.0 323.8,369.1C320.9,368.2 318.0,366.7 315.1,365.8C312.2,364.9 308.3,365.2 306.5,363.7C304.7,362.2 303.6,359.1 304.3,356.9Z" fill="#6fbd55"/>
<path d="M295.7,381.0C296.2,379.6 297.7,377.5 299.5,376.9C301.2,376.3 304.9,376.5 306.2,377.4C307.5,378.3 307.7,381.0 307.0,382.3C306.3,383.6 304.0,384.8 302.2,385.3C300.4,385.7 297.3,385.7 296.2,385.0C295.1,384.3 295.1,382.3 295.7,381.0Z" fill="#6fbd55"/>
<path d="M425.0,328.3C428.7,327.2 447.5,326.0 452.0,328.3C456.5,330.5 453.2,338.7 452.0,341.8C450.9,345.0 446.3,345.6 445.0,347.2C443.7,348.8 444.8,350.3 444.2,351.5C443.6,352.8 442.7,354.0 441.2,354.8C439.8,355.6 437.0,356.8 435.6,356.4C434.1,355.9 432.6,353.7 432.6,352.1C432.5,350.4 435.0,348.3 435.3,346.4C435.6,344.5 435.1,342.3 434.2,340.5C433.3,338.6 431.4,337.1 429.9,335.1C428.4,333.0 421.3,329.4 425.0,328.3Z" fill="#3e7a32"/>
<path d="M260.3,407.2C261.8,401.8 266.2,406.6 269.5,406.6C272.8,406.7 277.0,407.2 280.3,407.4C283.5,407.6 285.6,407.9 288.9,408.0C292.2,408.1 296.4,408.5 300.0,408.0C303.6,407.4 306.8,405.8 310.8,404.5C314.8,403.1 319.8,401.3 323.8,399.9C327.7,398.4 330.9,396.8 334.6,395.8C338.2,394.8 342.6,394.3 345.6,393.7C348.7,393.0 348.1,392.4 352.9,391.8C357.8,391.1 369.4,390.5 374.8,389.9C380.2,389.2 382.0,387.0 385.6,387.7C389.2,388.4 392.8,392.5 396.4,393.9C400.0,395.3 403.6,395.5 407.2,396.1C410.8,396.6 414.4,397.2 418.0,397.2C421.7,397.2 425.4,395.9 429.1,396.1C432.7,396.3 436.9,397.2 439.9,398.2C442.9,399.3 444.9,401.2 446.9,402.6C448.9,404.0 451.2,405.0 452.0,406.6C452.9,408.2 453.8,410.8 452.0,412.0C450.2,413.3 445.1,413.4 441.2,414.2C437.4,415.0 432.0,415.4 428.8,416.9C425.7,418.3 424.5,420.4 422.3,422.8C420.1,425.2 417.8,428.8 415.6,431.5C413.3,434.2 434.7,437.8 408.8,439.0C382.9,440.3 285.1,444.3 260.3,439.0C235.5,433.7 258.8,412.6 260.3,407.2Z" fill="#f6eec6"/>
<path d="M377.0,408.0C377.4,406.8 379.7,405.1 381.8,404.5C384.0,403.8 387.2,403.9 389.9,403.9C392.6,403.9 396.0,403.8 398.0,404.5C400.1,405.1 401.9,406.7 402.1,408.0C402.3,409.2 401.0,411.0 399.4,412.0C397.8,413.1 395.1,414.0 392.6,414.2C390.1,414.4 386.8,413.8 384.5,413.4C382.3,412.9 380.4,412.4 379.1,411.5C377.9,410.6 376.5,409.1 377.0,408.0Z" fill="#ffffff"/>
<path d="M325.9,439.0C320.8,437.7 326.1,432.9 327.3,430.9C328.5,428.9 330.4,427.9 333.2,427.1C336.0,426.4 340.6,426.4 344.0,426.6C347.4,426.8 351.2,427.0 353.5,428.2C355.7,429.4 356.8,431.8 357.5,433.6C358.3,435.4 363.3,438.1 358.1,439.0C352.8,439.9 331.1,440.4 325.9,439.0Z" fill="#ffffff"/>
<path d="M319.4,416.9C320.4,415.2 325.2,413.1 328.1,411.2C331.0,409.3 333.8,407.0 336.7,405.3C339.6,403.5 342.9,402.0 345.6,400.7C348.3,399.3 349.6,398.3 352.9,397.2C356.3,396.0 361.5,394.6 365.9,393.7C370.3,392.8 375.8,391.7 379.1,391.8C382.4,391.8 384.9,392.1 385.6,393.9C386.3,395.7 385.2,399.7 383.4,402.6C381.6,405.4 378.1,408.6 374.8,411.2C371.5,413.8 367.4,416.4 363.7,418.0C360.1,419.5 356.7,419.9 352.9,420.7C349.2,421.4 345.1,421.9 341.3,422.3C337.6,422.6 333.7,423.0 330.5,422.8C327.4,422.7 324.3,422.5 322.4,421.5C320.6,420.5 318.5,418.6 319.4,416.9Z" fill="#f2d296"/>
<path d="M260.3,328.3C292.3,325.8 420.1,320.4 452.0,328.3C484.0,336.2 456.5,367.5 452.0,375.6C447.5,383.7 434.0,376.5 425.0,376.9C416.0,377.4 406.4,377.9 398.0,378.3C389.7,378.6 382.0,378.3 374.8,378.8C367.6,379.2 360.8,380.1 354.8,381.0C348.8,381.9 343.3,383.3 338.9,384.2C334.4,385.1 331.7,385.6 328.1,386.4C324.5,387.1 321.6,387.8 317.3,388.5C313.0,389.3 306.5,390.7 302.2,391.0C297.8,391.2 294.3,391.3 291.4,389.9C288.4,388.4 285.5,385.6 284.6,382.3C283.7,379.0 285.1,374.0 286.0,370.2C286.9,366.3 289.7,362.6 290.0,359.4C290.3,356.1 289.6,352.9 287.8,350.4C286.0,348.0 283.0,345.7 279.2,344.5C275.4,343.3 268.3,343.4 265.2,343.2C262.0,342.9 261.1,345.6 260.3,343.2C259.5,340.7 228.3,330.8 260.3,328.3Z" fill="url(#hpf)"/>
<path d="M290.0,413.4C292.3,411.2 299.0,411.2 303.5,409.9C308.0,408.5 312.5,406.8 317.0,405.3C321.5,403.7 326.0,402.0 330.5,400.7C335.0,399.3 340.3,398.2 344.0,397.2C347.8,396.1 349.3,395.2 352.9,394.5C356.6,393.7 361.5,393.3 365.9,392.8C370.3,392.4 375.8,391.7 379.1,391.8C382.4,391.8 382.7,392.2 385.6,393.1C388.5,394.0 391.6,396.3 396.4,397.2C401.2,398.1 408.6,398.4 414.2,398.5C419.9,398.6 425.0,397.3 430.4,398.0C435.8,398.6 443.5,400.2 446.6,402.6C449.8,404.9 450.2,408.4 449.3,412.0C448.4,415.6 445.3,421.5 441.2,424.2C437.2,426.9 430.4,426.4 425.0,428.2C419.6,430.0 415.6,433.6 408.8,435.0C402.1,436.3 395.3,436.1 384.5,436.3C373.7,436.5 358.9,436.3 344.0,436.3C329.2,436.3 304.4,438.6 295.4,436.3C286.4,434.1 290.9,426.6 290.0,422.8C289.1,419.0 287.8,415.5 290.0,413.4Z" fill="url(#hpf)"/>
<path d="M303.3,435.6 L304.5,434.1 L305.7,432.0 L308.7,430.5 L312.4,427.9 L314.8,427.4 L316.6,426.7 L319.0,427.9 L322.0,427.9 L324.4,428.7 L325.0,430.5 L323.8,432.5 L325.0,434.3 L327.1,434.3 L328.1,433.3 L327.4,431.3 L328.1,429.5 L331.1,428.2 L335.3,427.2 L338.9,426.4 L341.9,425.9 L344.3,424.4 L346.1,421.8 L347.4,423.6 L350.4,423.9 L352.8,422.1 L355.2,421.6 L358.8,421.3 L362.4,420.5 L364.9,418.8 L367.9,417.7 L370.9,415.7 L373.3,413.1 L376.9,412.1 L378.1,410.1 L381.1,408.0 L383.0,405.5 L383.0,403.4 L384.2,401.9 L387.2,399.9 L389.0,397.3 L390.8,394.8 L393.8,392.7 L395.0,389.7 L396.8,387.1 L397.4,385.1 L395.0,384.0 L392.6,383.0 L389.0,382.8 L391.4,381.5 L394.4,380.2 L396.8,379.4 L396.2,377.4 L393.2,376.1 L391.4,375.6 L394.4,375.4 L396.8,375.6 L393.2,373.8 L390.8,371.3 L390.2,369.2 L388.4,366.7 L387.2,364.1 L385.4,362.6 L382.3,361.6 L380.5,360.0 L381.7,358.0 L383.6,356.0 L386.6,353.9 L389.6,351.9 L392.6,350.3 L395.6,349.3 L400.4,348.8 L401.1,346.8 L398.6,346.3 L395.0,346.3 L392.0,345.2 L389.6,344.7 L387.2,345.8 L384.2,347.8 L381.1,348.3 L378.7,346.8 L379.3,344.7 L376.9,343.2 L373.3,342.2 L370.9,340.6 L371.5,338.1 L374.5,338.1 L378.1,338.1 L381.1,336.6 L383.0,334.0 L388.4,332.5 L391.4,330.4 L396.2,328.9 L399.2,330.9 L396.8,333.5 L395.0,336.1 L393.2,337.1 L392.0,339.1 L394.4,339.6 L396.8,338.6 L399.2,336.6 L402.9,335.5 L407.1,334.5 L411.3,334.0 L413.7,335.5 L416.7,336.1 L417.9,338.6 L416.1,340.6 L419.8,342.2 L422.2,344.7 L425.2,346.3 L425.2,348.8 L422.8,350.3 L424.6,352.9 L425.8,354.9 L424.0,357.5 L423.4,361.1 L425.2,362.6 L428.8,361.1 L432.4,360.0 L436.0,359.5 L439.1,358.5 L441.5,357.5 L442.7,354.9 L442.1,351.9 L442.1,348.8 L440.3,345.8 L437.3,342.2 L434.8,339.6 L431.2,337.6 L430.6,335.0 L433.6,333.5 L437.3,331.5" fill="none" stroke="#5cc8d0" stroke-width="0.9" stroke-linejoin="round"/>
<path d="M386.0,420.3 L386.3,417.2 L387.8,413.6 L389.6,411.6 L391.4,410.1 L394.4,408.5 L396.8,409.6 L396.2,412.6 L395.0,415.2 L393.8,418.8 L391.4,421.8 L390.5,425.6 L389.6,423.9 L387.2,422.3 L386.0,420.3" fill="none" stroke="#5cc8d0" stroke-width="0.9" stroke-linejoin="round"/>
<path d="M422.8,367.7 L424.6,366.4 L427.0,366.9 L425.2,368.2 L422.8,367.7" fill="none" stroke="#5cc8d0" stroke-width="0.9" stroke-linejoin="round"/>
<path d="M446.9,364.6 L444.5,366.2 L443.3,368.2 L444.5,370.3 L443.9,371.8 L446.9,371.3 L447.5,373.3 L446.9,377.4" fill="none" stroke="#5cc8d0" stroke-width="0.9" stroke-linejoin="round"/>
<path d="M441.5,360.6 L440.9,362.6 L442.1,363.1 L442.7,361.1 L441.5,360.6" fill="none" stroke="#5cc8d0" stroke-width="0.9" stroke-linejoin="round"/>
<path d="M317.2,436.1 L320.2,435.6 L323.2,435.3 L326.2,435.1 L329.3,435.6" fill="none" stroke="#5cc8d0" stroke-width="0.9" stroke-linejoin="round"/>
<path d="M264.7,348.3 L267.1,347.8 L268.9,349.3 L267.7,350.9 L264.7,350.1" fill="none" stroke="#5cc8d0" stroke-width="0.9" stroke-linejoin="round"/>
<path d="M384.8,378.4 L386.6,376.9 L388.4,377.9 L387.2,379.4 L384.8,378.4" fill="none" stroke="#5cc8d0" stroke-width="0.9" stroke-linejoin="round"/>
<path d="M375.1,368.2 L376.9,366.7 L378.7,367.7 L377.5,369.2 L375.1,368.2" fill="none" stroke="#5cc8d0" stroke-width="0.9" stroke-linejoin="round"/>
<path d="M313.0,427.7 L309.3,427.2 L305.1,425.4 L304.5,423.3 L305.7,421.3 L300.9,420.5 L297.3,418.8 L293.7,420.3 L290.6,421.8 L288.2,422.8 L284.6,421.3 L282.2,422.8 L279.2,422.3 L277.4,423.3" fill="none" stroke="#5cc8d0" stroke-width="0.9" stroke-linejoin="round"/>
<path d="M277.4,423.3 L275.0,424.4 L274.4,427.9 L271.9,429.5 L270.7,427.4 L267.7,427.9 L265.9,426.9 L264.1,426.4" fill="none" stroke="#5cc8d0" stroke-width="0.9" stroke-linejoin="round"/>
<path d="M277.4,423.3 L278.6,426.4 L281.6,427.9 L283.4,430.5 L287.6,432.0 L291.2,433.6 L292.5,435.6" fill="none" stroke="#5cc8d0" stroke-width="0.9" stroke-linejoin="round"/>
<path d="M265.3,434.1 L267.7,431.5 L270.7,429.0" fill="none" stroke="#5cc8d0" stroke-width="0.9" stroke-linejoin="round"/>
<path d="M264.7,400.1 L265.1,400.0 L265.4,399.8 L265.2,399.3 L265.5,399.1 L266.1,398.9 L266.0,398.3 L266.4,398.0 L266.5,397.6 L267.0,397.8 L267.0,397.3 L267.5,397.5 L267.5,397.1 L267.5,397.5 L267.1,398.0 L267.2,398.4 L267.7,398.8 L267.3,399.3 L267.4,400.0 L266.4,400.2 L266.5,400.9 L266.3,401.4 L266.8,401.7 L267.2,402.1 L266.8,402.6 L267.7,402.8 L268.4,403.1 L269.4,402.8 L270.1,403.4 L271.4,403.5 L272.3,402.5 L273.6,402.6 L274.7,402.1 L274.9,402.8 L275.4,403.3 L276.1,403.6 L276.8,403.9 L277.9,403.6 L279.1,404.1 L280.2,403.7 L281.3,403.7 L281.8,403.1 L282.5,402.8 L283.0,402.2 L283.6,401.7 L284.1,400.8 L284.2,399.8 L284.1,398.8 L283.9,397.8 L284.6,396.7 L285.6,395.8 L286.5,394.9 L287.2,393.8 L288.5,393.1 L289.9,392.5 L291.3,392.0 L292.5,391.2 L293.7,390.8 L295.0,390.7 L296.4,390.9 L297.7,390.5 L299.1,389.7 L300.6,389.0 L301.9,388.0 L303.6,387.6 L305.1,386.7 L307.0,386.3 L308.3,385.0 L310.2,384.6 L311.6,384.0 L312.5,383.0 L313.4,381.9 L314.8,381.3 L316.4,380.9 L317.7,380.0 L319.4,379.7 L320.7,378.7 L322.7,378.5 L324.6,378.4 L326.6,378.6 L328.6,378.7 L329.8,378.8 L330.5,379.6 L331.6,379.7 L332.5,380.3 L334.4,381.3 L336.2,382.4 L338.0,383.6 L339.8,384.6 L341.1,384.8 L342.2,385.2 L343.1,386.0 L344.2,386.5 L345.4,385.6 L347.1,385.4 L348.1,384.2 L349.5,383.6 L350.3,382.9 L350.9,382.0 L351.9,381.6 L353.0,381.2 L353.7,381.5 L354.4,381.6 L355.2,381.5 L355.8,381.8 L357.0,383.0 L358.7,383.6 L360.0,384.7 L361.7,385.3 L363.2,385.1 L364.6,384.5 L365.6,383.4 L367.0,383.0 L368.4,382.4 L369.5,381.4 L370.5,380.5 L371.6,379.5 L372.4,378.6 L373.9,378.6 L374.7,377.7 L375.7,377.1 L376.5,376.1 L377.1,374.9 L378.1,373.9 L379.2,373.1 L380.3,372.6 L381.6,373.0 L382.8,372.7 L383.9,372.5 L385.0,373.0 L386.4,373.0 L387.6,373.4 L388.6,374.2 L389.7,374.8 L390.9,375.0 L392.1,375.2 L393.3,375.2 L393.7,375.8 L394.5,375.9 L395.1,376.2 L395.6,376.6" fill="none" stroke="#4a5fe0" stroke-width="0.9" stroke-linejoin="round"/>
<rect x="294.9" y="343.7" width="108.6" height="81.7" fill="none" stroke="#f44242" stroke-width="1"/>
</g>
<rect x="264.7" y="333.5" width="181.0" height="102.1" fill="none" stroke="#3a3a3a" stroke-width="1"/>
<line x1="261.7" y1="353.92" x2="264.7" y2="353.92" stroke="#444" stroke-width="1"/>
<text x="0" y="0" font-size="8.5" fill="#333" letter-spacing="0.556" transform="translate(260.30 357.12) translate(-18.60 0) scale(0.9 1)">36<tspan dy="-2.29" font-size="8.5">&#8226;</tspan><tspan dy="2.29">N</tspan></text>
<line x1="261.7" y1="384.55" x2="264.7" y2="384.55" stroke="#444" stroke-width="1"/>
<text x="0" y="0" font-size="8.5" fill="#333" letter-spacing="0.556" transform="translate(260.30 387.75) translate(-18.60 0) scale(0.9 1)">30<tspan dy="-2.29" font-size="8.5">&#8226;</tspan><tspan dy="2.29">N</tspan></text>
<line x1="261.7" y1="415.18" x2="264.7" y2="415.18" stroke="#444" stroke-width="1"/>
<text x="0" y="0" font-size="8.5" fill="#333" letter-spacing="0.556" transform="translate(260.30 418.38) translate(-18.60 0) scale(0.9 1)">24<tspan dy="-2.29" font-size="8.5">&#8226;</tspan><tspan dy="2.29">N</tspan></text>
<line x1="264.70" y1="435.6" x2="264.70" y2="438.6" stroke="#444" stroke-width="1"/>
<text x="0" y="0" font-size="8.4" fill="#333" letter-spacing="0.479" transform="translate(265.80 446.70) translate(-11.20 0) scale(0.9 1)">100<tspan dy="-2.27" font-size="8.4">&#8226;</tspan><tspan dy="2.27">E</tspan></text>
<line x1="325.03" y1="435.6" x2="325.03" y2="438.6" stroke="#444" stroke-width="1"/>
<text x="0" y="0" font-size="8.4" fill="#333" letter-spacing="0.636" transform="translate(326.13 446.70) translate(-11.20 0) scale(0.9 1)">110<tspan dy="-2.27" font-size="8.4">&#8226;</tspan><tspan dy="2.27">E</tspan></text>
<line x1="385.37" y1="435.6" x2="385.37" y2="438.6" stroke="#444" stroke-width="1"/>
<text x="0" y="0" font-size="8.4" fill="#333" letter-spacing="0.479" transform="translate(386.47 446.70) translate(-11.20 0) scale(0.9 1)">120<tspan dy="-2.27" font-size="8.4">&#8226;</tspan><tspan dy="2.27">E</tspan></text>
<text x="0" y="0" font-size="12" fill="#222" letter-spacing="1.633" word-spacing="2.895" stroke="#222" stroke-width="0.26" transform="translate(265.50 328.00) translate(0.00 0) scale(0.76 1)">f. EOF1 1984&#8722;2003 (39.3%)</text>
<clipPath id="cliph"><rect x="503.8" y="333.5" width="181.0" height="102.1"/></clipPath>
<pattern id="hph" patternUnits="userSpaceOnUse" x="503.8" y="333.5" width="11.4" height="11.4"><path d="M0,0L11.4,11.4M11.4,0L0,11.4M-1,10.4L1,12.4M10.4,-1L12.4,1" stroke="#fff" stroke-width="1" stroke-opacity="0.9" fill="none"/></pattern>
<g clip-path="url(#cliph)">
<rect x="503.8" y="333.5" width="181.0" height="102.1" fill="#ffffff"/>
<path d="M544.7,357.7C546.1,356.2 551.9,353.9 555.4,352.4C559.0,350.8 561.7,349.3 566.1,348.4C570.6,347.5 577.8,347.7 582.1,347.0C586.5,346.3 587.5,345.1 592.0,344.1C596.6,343.1 603.3,341.6 609.4,340.9C615.5,340.2 625.3,340.8 628.9,339.8C632.5,338.9 629.9,336.5 631.0,335.3C632.2,334.0 631.2,332.8 635.6,332.3C639.9,331.8 648.3,332.3 657.2,332.3C666.1,332.3 683.7,327.1 689.0,332.3C694.3,337.5 689.7,358.4 689.0,363.6C688.3,368.8 687.4,363.2 685.0,363.6C682.6,364.0 678.2,365.0 674.6,365.7C671.0,366.4 667.2,367.2 663.6,367.9C660.0,368.6 656.6,370.0 652.9,370.0C649.3,370.0 644.5,368.9 642.0,367.9C639.5,366.8 639.5,364.3 637.7,363.6C635.9,362.9 632.5,363.1 631.0,363.6C629.6,364.1 631.0,365.9 628.9,366.8C626.8,367.7 622.2,368.2 618.2,368.9C614.3,369.6 609.5,370.5 605.1,371.1C600.8,371.7 595.9,371.3 592.0,372.4C588.2,373.5 585.1,376.6 582.1,377.8C579.2,378.9 576.4,379.8 574.1,379.1C571.9,378.4 570.1,376.0 568.8,373.7C567.5,371.5 568.3,367.5 566.1,365.7C563.9,364.0 558.6,363.7 555.4,363.1C552.3,362.4 549.2,362.6 547.4,361.7C545.6,360.8 543.4,359.3 544.7,357.7Z" fill="#d4ebd2"/>
<path d="M652.9,328.3C654.8,326.1 663.1,326.1 665.0,328.3C666.9,330.6 665.3,339.0 664.4,341.7C663.5,344.4 661.4,344.4 659.6,344.4C657.8,344.4 654.9,344.4 653.7,341.7C652.6,339.0 651.1,330.6 652.9,328.3Z" fill="#ffffff"/>
<path d="M572.8,365.2C573.2,364.4 575.2,363.1 576.3,363.1C577.4,363.1 579.3,364.3 579.5,365.2C579.7,366.1 578.3,368.0 577.3,368.4C576.4,368.8 574.4,368.4 573.6,367.9C572.8,367.3 572.4,366.0 572.8,365.2Z" fill="#ffffff"/>
<path d="M556.8,357.7C557.1,356.6 561.5,355.3 564.0,355.0C566.4,354.8 570.4,355.5 571.5,356.4C572.5,357.3 571.7,359.5 570.1,360.4C568.6,361.2 564.3,361.9 562.1,361.5C559.9,361.0 556.5,358.8 556.8,357.7Z" fill="#aad897"/>
<path d="M607.3,350.2C607.2,349.5 610.1,348.2 611.5,348.1C613.0,348.0 615.7,348.9 615.8,349.7C615.9,350.5 613.5,352.6 612.1,352.6C610.6,352.7 607.4,351.0 607.3,350.2Z" fill="#aad897"/>
<path d="M636.7,352.4C636.9,350.2 641.1,347.2 643.6,346.2C646.1,345.2 649.7,345.4 651.6,346.5C653.5,347.6 655.1,350.9 655.1,352.9C655.1,355.0 653.7,357.7 651.6,358.8C649.5,359.9 644.8,360.4 642.3,359.3C639.8,358.3 636.4,354.6 636.7,352.4Z" fill="#aad897"/>
<path d="M668.2,352.4C668.2,350.9 670.9,349.2 673.0,348.6C675.0,348.1 679.0,348.0 680.5,349.2C681.9,350.3 682.8,354.2 681.5,355.6C680.3,356.9 675.2,357.7 673.0,357.2C670.8,356.6 668.2,353.8 668.2,352.4Z" fill="#aad897"/>
<path d="M517.2,352.4C517.7,351.3 519.9,349.8 521.2,349.7C522.5,349.6 524.5,350.9 525.0,351.8C525.4,352.8 525.0,354.9 523.9,355.6C522.8,356.3 519.7,356.6 518.6,356.1C517.5,355.6 516.8,353.4 517.2,352.4Z" fill="#f6eec6"/>
<path d="M499.3,357.2C502.0,342.9 511.4,357.2 515.4,357.7C519.4,358.3 521.2,359.1 523.4,360.4C525.5,361.7 527.4,363.1 528.2,365.7C529.0,368.4 528.5,373.3 528.2,376.4C527.8,379.5 525.7,382.6 526.0,384.4C526.4,386.3 528.8,388.0 530.3,387.4C531.9,386.7 534.1,382.5 535.4,380.4C536.7,378.4 537.2,375.3 538.1,375.1C539.0,374.9 539.5,376.9 540.7,379.1C542.0,381.3 543.0,386.5 545.5,388.4C548.1,390.4 552.6,390.0 556.2,390.6C559.8,391.2 563.6,391.9 567.2,391.9C570.8,392.0 573.7,391.2 577.9,390.8C582.0,390.5 587.5,390.1 592.0,389.8C596.6,389.4 600.8,389.3 605.1,388.7C609.5,388.1 613.9,387.1 618.2,386.3C622.5,385.5 628.1,383.6 631.0,384.2C633.9,384.7 634.5,388.1 635.6,389.8C636.7,391.4 635.6,393.5 637.7,394.1C639.9,394.6 644.4,393.0 648.4,393.0C652.4,393.0 657.1,393.5 661.5,394.1C665.9,394.6 670.0,395.0 674.6,396.2C679.2,397.3 686.6,393.2 689.0,401.0C691.4,408.8 720.6,436.2 689.0,443.2C657.4,450.2 530.9,457.5 499.3,443.2C467.7,428.9 496.7,371.4 499.3,357.2Z" fill="#f6eec6"/>
<path d="M607.3,416.5C608.2,415.0 612.0,414.7 614.2,415.2C616.4,415.6 619.9,417.6 620.4,419.2C620.8,420.7 618.8,423.7 616.9,424.5C615.0,425.3 610.5,425.3 608.9,424.0C607.3,422.6 606.4,418.0 607.3,416.5Z" fill="#ffffff"/>
<path d="M515.1,404.7C514.4,402.2 516.1,398.0 519.4,396.2C522.6,394.4 528.4,394.4 534.6,394.1C540.7,393.7 549.0,394.2 556.2,394.1C563.4,393.9 571.9,393.0 577.9,393.0C583.8,393.0 587.5,394.1 592.0,394.1C596.6,394.1 600.8,393.2 605.1,393.0C609.5,392.8 614.6,392.8 618.2,393.0C621.8,393.2 625.7,392.4 626.8,394.1C627.8,395.7 626.1,400.1 624.6,402.6C623.2,405.1 621.5,407.5 618.2,409.3C615.0,411.1 609.5,412.5 605.1,413.6C600.8,414.6 596.6,415.2 592.0,415.7C587.5,416.2 583.8,416.0 577.9,416.8C571.9,417.5 561.6,419.1 556.2,420.0C550.8,420.9 549.2,422.5 545.5,422.1C541.9,421.7 538.2,419.6 534.6,417.8C530.9,416.0 526.9,413.6 523.6,411.4C520.4,409.2 515.8,407.3 515.1,404.7Z" fill="#f2d296"/>
<path d="M499.3,381.8C500.0,380.2 502.4,379.3 503.1,380.4C503.8,381.5 504.2,386.9 503.6,388.4C503.0,390.0 500.0,390.9 499.3,389.8C498.6,388.7 498.7,383.3 499.3,381.8Z" fill="#f2d296"/>
<path d="M499.3,401.0C502.4,393.7 510.9,399.9 518.0,399.1C525.2,398.4 533.6,397.1 542.1,396.5C550.5,395.8 560.5,395.2 568.8,395.1C577.1,395.1 582.4,396.2 592.0,396.2C601.7,396.2 619.5,395.3 626.8,395.1C634.0,394.9 631.4,395.1 635.6,395.1C639.7,395.1 645.4,394.7 651.6,395.1C657.8,395.6 666.8,396.8 673.0,397.8C679.2,398.8 686.3,393.4 689.0,401.0C691.7,408.6 720.6,436.2 689.0,443.2C657.4,450.2 530.9,450.2 499.3,443.2C467.7,436.2 496.2,408.3 499.3,401.0Z" fill="url(#hph)"/>
<path d="M542.4,435.6 L543.6,434.1 L544.8,432.0 L547.8,430.5 L551.5,427.9 L553.9,427.4 L555.7,426.7 L558.1,427.9 L561.1,427.9 L563.5,428.7 L564.1,430.5 L562.9,432.5 L564.1,434.3 L566.2,434.3 L567.1,433.3 L566.5,431.3 L567.1,429.5 L570.2,428.2 L574.4,427.2 L578.0,426.4 L581.0,425.9 L583.4,424.4 L585.2,421.8 L586.5,423.6 L589.5,423.9 L591.9,422.1 L594.3,421.6 L597.9,421.3 L601.5,420.5 L604.0,418.8 L607.0,417.7 L610.0,415.7 L612.4,413.1 L616.0,412.1 L617.2,410.1 L620.2,408.0 L622.1,405.5 L622.1,403.4 L623.3,401.9 L626.3,399.9 L628.1,397.3 L629.9,394.8 L632.9,392.7 L634.1,389.7 L635.9,387.1 L636.5,385.1 L634.1,384.0 L631.7,383.0 L628.1,382.8 L630.5,381.5 L633.5,380.2 L635.9,379.4 L635.3,377.4 L632.3,376.1 L630.5,375.6 L633.5,375.4 L635.9,375.6 L632.3,373.8 L629.9,371.3 L629.3,369.2 L627.5,366.7 L626.3,364.1 L624.5,362.6 L621.5,361.6 L619.6,360.0 L620.8,358.0 L622.7,356.0 L625.7,353.9 L628.7,351.9 L631.7,350.3 L634.7,349.3 L639.5,348.8 L640.2,346.8 L637.7,346.3 L634.1,346.3 L631.1,345.2 L628.7,344.7 L626.3,345.8 L623.3,347.8 L620.2,348.3 L617.8,346.8 L618.4,344.7 L616.0,343.2 L612.4,342.2 L610.0,340.6 L610.6,338.1 L613.6,338.1 L617.2,338.1 L620.2,336.6 L622.1,334.0 L627.5,332.5 L630.5,330.4 L635.3,328.9 L638.3,330.9 L635.9,333.5 L634.1,336.1 L632.3,337.1 L631.1,339.1 L633.5,339.6 L635.9,338.6 L638.3,336.6 L642.0,335.5 L646.2,334.5 L650.4,334.0 L652.8,335.5 L655.8,336.1 L657.0,338.6 L655.2,340.6 L658.9,342.2 L661.3,344.7 L664.3,346.3 L664.3,348.8 L661.9,350.3 L663.7,352.9 L664.9,354.9 L663.1,357.5 L662.5,361.1 L664.3,362.6 L667.9,361.1 L671.5,360.0 L675.1,359.5 L678.2,358.5 L680.6,357.5 L681.8,354.9 L681.2,351.9 L681.2,348.8 L679.4,345.8 L676.4,342.2 L673.9,339.6 L670.3,337.6 L669.7,335.0 L672.7,333.5 L676.4,331.5" fill="none" stroke="#5cc8d0" stroke-width="0.9" stroke-linejoin="round"/>
<path d="M625.1,420.3 L625.4,417.2 L626.9,413.6 L628.7,411.6 L630.5,410.1 L633.5,408.5 L635.9,409.6 L635.3,412.6 L634.1,415.2 L632.9,418.8 L630.5,421.8 L629.6,425.6 L628.7,423.9 L626.3,422.3 L625.1,420.3" fill="none" stroke="#5cc8d0" stroke-width="0.9" stroke-linejoin="round"/>
<path d="M661.9,367.7 L663.7,366.4 L666.1,366.9 L664.3,368.2 L661.9,367.7" fill="none" stroke="#5cc8d0" stroke-width="0.9" stroke-linejoin="round"/>
<path d="M686.0,364.6 L683.6,366.2 L682.4,368.2 L683.6,370.3 L683.0,371.8 L686.0,371.3 L686.6,373.3 L686.0,377.4" fill="none" stroke="#5cc8d0" stroke-width="0.9" stroke-linejoin="round"/>
<path d="M680.6,360.6 L680.0,362.6 L681.2,363.1 L681.8,361.1 L680.6,360.6" fill="none" stroke="#5cc8d0" stroke-width="0.9" stroke-linejoin="round"/>
<path d="M556.3,436.1 L559.3,435.6 L562.3,435.3 L565.3,435.1 L568.4,435.6" fill="none" stroke="#5cc8d0" stroke-width="0.9" stroke-linejoin="round"/>
<path d="M503.8,348.3 L506.2,347.8 L508.0,349.3 L506.8,350.9 L503.8,350.1" fill="none" stroke="#5cc8d0" stroke-width="0.9" stroke-linejoin="round"/>
<path d="M623.9,378.4 L625.7,376.9 L627.5,377.9 L626.3,379.4 L623.9,378.4" fill="none" stroke="#5cc8d0" stroke-width="0.9" stroke-linejoin="round"/>
<path d="M614.2,368.2 L616.0,366.7 L617.8,367.7 L616.6,369.2 L614.2,368.2" fill="none" stroke="#5cc8d0" stroke-width="0.9" stroke-linejoin="round"/>
<path d="M552.1,427.7 L548.4,427.2 L544.2,425.4 L543.6,423.3 L544.8,421.3 L540.0,420.5 L536.4,418.8 L532.8,420.3 L529.7,421.8 L527.3,422.8 L523.7,421.3 L521.3,422.8 L518.3,422.3 L516.5,423.3" fill="none" stroke="#5cc8d0" stroke-width="0.9" stroke-linejoin="round"/>
<path d="M516.5,423.3 L514.1,424.4 L513.5,427.9 L511.0,429.5 L509.8,427.4 L506.8,427.9 L505.0,426.9 L503.2,426.4" fill="none" stroke="#5cc8d0" stroke-width="0.9" stroke-linejoin="round"/>
<path d="M516.5,423.3 L517.7,426.4 L520.7,427.9 L522.5,430.5 L526.7,432.0 L530.3,433.6 L531.6,435.6" fill="none" stroke="#5cc8d0" stroke-width="0.9" stroke-linejoin="round"/>
<path d="M504.4,434.1 L506.8,431.5 L509.8,429.0" fill="none" stroke="#5cc8d0" stroke-width="0.9" stroke-linejoin="round"/>
<path d="M503.8,400.1 L504.2,400.0 L504.5,399.8 L504.3,399.3 L504.6,399.1 L505.2,398.9 L505.1,398.3 L505.5,398.0 L505.6,397.6 L506.1,397.8 L506.1,397.3 L506.6,397.5 L506.6,397.1 L506.6,397.5 L506.2,398.0 L506.3,398.4 L506.8,398.8 L506.4,399.3 L506.5,400.0 L505.5,400.2 L505.6,400.9 L505.4,401.4 L505.9,401.7 L506.3,402.1 L505.9,402.6 L506.8,402.8 L507.5,403.1 L508.5,402.8 L509.2,403.4 L510.5,403.5 L511.4,402.5 L512.7,402.6 L513.8,402.1 L514.0,402.8 L514.5,403.3 L515.2,403.6 L515.9,403.9 L517.0,403.6 L518.2,404.1 L519.3,403.7 L520.4,403.7 L520.9,403.1 L521.6,402.8 L522.1,402.2 L522.7,401.7 L523.2,400.8 L523.3,399.8 L523.2,398.8 L523.0,397.8 L523.7,396.7 L524.7,395.8 L525.6,394.9 L526.3,393.8 L527.6,393.1 L529.0,392.5 L530.4,392.0 L531.6,391.2 L532.8,390.8 L534.1,390.7 L535.5,390.9 L536.8,390.5 L538.2,389.7 L539.7,389.0 L541.0,388.0 L542.7,387.6 L544.2,386.7 L546.1,386.3 L547.4,385.0 L549.3,384.6 L550.7,384.0 L551.6,383.0 L552.5,381.9 L553.9,381.3 L555.5,380.9 L556.8,380.0 L558.5,379.7 L559.8,378.7 L561.8,378.5 L563.7,378.4 L565.7,378.6 L567.7,378.7 L568.9,378.8 L569.6,379.6 L570.7,379.7 L571.6,380.3 L573.5,381.3 L575.3,382.4 L577.1,383.6 L578.9,384.6 L580.2,384.8 L581.3,385.2 L582.2,386.0 L583.3,386.5 L584.5,385.6 L586.2,385.4 L587.2,384.2 L588.6,383.6 L589.4,382.9 L590.0,382.0 L591.0,381.6 L592.1,381.2 L592.8,381.5 L593.5,381.6 L594.3,381.5 L594.9,381.8 L596.1,383.0 L597.8,383.6 L599.1,384.7 L600.8,385.3 L602.3,385.1 L603.7,384.5 L604.7,383.4 L606.1,383.0 L607.5,382.4 L608.6,381.4 L609.6,380.5 L610.7,379.5 L611.5,378.6 L613.0,378.6 L613.8,377.7 L614.8,377.1 L615.6,376.1 L616.2,374.9 L617.2,373.9 L618.3,373.1 L619.4,372.6 L620.7,373.0 L621.9,372.7 L623.0,372.5 L624.1,373.0 L625.5,373.0 L626.7,373.4 L627.7,374.2 L628.8,374.8 L630.0,375.0 L631.2,375.2 L632.4,375.2 L632.8,375.8 L633.6,375.9 L634.2,376.2 L634.7,376.6" fill="none" stroke="#4a5fe0" stroke-width="0.9" stroke-linejoin="round"/>
<rect x="534.0" y="343.7" width="108.6" height="81.7" fill="none" stroke="#f44242" stroke-width="1"/>
</g>
<rect x="503.8" y="333.5" width="181.0" height="102.1" fill="none" stroke="#3a3a3a" stroke-width="1"/>
<line x1="500.8" y1="353.92" x2="503.8" y2="353.92" stroke="#444" stroke-width="1"/>
<text x="0" y="0" font-size="8.5" fill="#333" letter-spacing="0.556" transform="translate(499.40 357.12) translate(-18.60 0) scale(0.9 1)">36<tspan dy="-2.29" font-size="8.5">&#8226;</tspan><tspan dy="2.29">N</tspan></text>
<line x1="500.8" y1="384.55" x2="503.8" y2="384.55" stroke="#444" stroke-width="1"/>
<text x="0" y="0" font-size="8.5" fill="#333" letter-spacing="0.556" transform="translate(499.40 387.75) translate(-18.60 0) scale(0.9 1)">30<tspan dy="-2.29" font-size="8.5">&#8226;</tspan><tspan dy="2.29">N</tspan></text>
<line x1="500.8" y1="415.18" x2="503.8" y2="415.18" stroke="#444" stroke-width="1"/>
<text x="0" y="0" font-size="8.5" fill="#333" letter-spacing="0.556" transform="translate(499.40 418.38) translate(-18.60 0) scale(0.9 1)">24<tspan dy="-2.29" font-size="8.5">&#8226;</tspan><tspan dy="2.29">N</tspan></text>
<line x1="503.80" y1="435.6" x2="503.80" y2="438.6" stroke="#444" stroke-width="1"/>
<text x="0" y="0" font-size="8.4" fill="#333" letter-spacing="0.479" transform="translate(504.90 446.70) translate(-11.20 0) scale(0.9 1)">100<tspan dy="-2.27" font-size="8.4">&#8226;</tspan><tspan dy="2.27">E</tspan></text>
<line x1="564.13" y1="435.6" x2="564.13" y2="438.6" stroke="#444" stroke-width="1"/>
<text x="0" y="0" font-size="8.4" fill="#333" letter-spacing="0.636" transform="translate(565.23 446.70) translate(-11.20 0) scale(0.9 1)">110<tspan dy="-2.27" font-size="8.4">&#8226;</tspan><tspan dy="2.27">E</tspan></text>
<line x1="624.47" y1="435.6" x2="624.47" y2="438.6" stroke="#444" stroke-width="1"/>
<text x="0" y="0" font-size="8.4" fill="#333" letter-spacing="0.479" transform="translate(625.57 446.70) translate(-11.20 0) scale(0.9 1)">120<tspan dy="-2.27" font-size="8.4">&#8226;</tspan><tspan dy="2.27">E</tspan></text>
<text x="0" y="0" font-size="12" fill="#222" letter-spacing="1.498" word-spacing="2.895" stroke="#222" stroke-width="0.26" transform="translate(504.60 328.00) translate(0.00 0) scale(0.76 1)">h. EOF2 2004&#8722;2023 (18.9%)</text>
<rect x="224.30" y="456.4" width="29.05" height="11.2" fill="#3e7a32" stroke="#333" stroke-width="0.8"/>
<rect x="253.35" y="456.4" width="29.05" height="11.2" fill="#6fbd55" stroke="#333" stroke-width="0.8"/>
<rect x="282.40" y="456.4" width="29.05" height="11.2" fill="#aad897" stroke="#333" stroke-width="0.8"/>
<rect x="311.45" y="456.4" width="29.05" height="11.2" fill="#d4ebd2" stroke="#333" stroke-width="0.8"/>
<rect x="340.50" y="456.4" width="29.05" height="11.2" fill="#ffffff" stroke="#333" stroke-width="0.8"/>
<rect x="369.55" y="456.4" width="29.05" height="11.2" fill="#f6eec6" stroke="#333" stroke-width="0.8"/>
<rect x="398.60" y="456.4" width="29.05" height="11.2" fill="#f2d296" stroke="#333" stroke-width="0.8"/>
<rect x="427.65" y="456.4" width="29.05" height="11.2" fill="#f0c25a" stroke="#333" stroke-width="0.8"/>
<rect x="456.70" y="456.4" width="29.05" height="11.2" fill="#d3a022" stroke="#333" stroke-width="0.8"/>
<text x="0" y="0" font-size="10.3" fill="#333" transform="translate(253.65 477.80) translate(-5.58 0) scale(0.95 1)">&#8722;2</text>
<text x="0" y="0" font-size="10.3" fill="#333" transform="translate(282.70 477.80) translate(-9.66 0) scale(0.95 1)">&#8722;1.2</text>
<text x="0" y="0" font-size="10.3" fill="#333" transform="translate(311.75 477.80) translate(-9.66 0) scale(0.95 1)">&#8722;0.6</text>
<text x="0" y="0" font-size="10.3" fill="#333" transform="translate(340.80 477.80) translate(-9.66 0) scale(0.95 1)">&#8722;0.3</text>
<text x="0" y="0" font-size="10.3" fill="#333" transform="translate(369.85 477.80) translate(-6.80 0) scale(0.95 1)">0.3</text>
<text x="0" y="0" font-size="10.3" fill="#333" transform="translate(398.90 477.80) translate(-6.80 0) scale(0.95 1)">0.6</text>
<text x="0" y="0" font-size="10.3" fill="#333" transform="translate(427.95 477.80) translate(-6.80 0) scale(0.95 1)">1.2</text>
<text x="0" y="0" font-size="10.3" fill="#333" transform="translate(457.00 477.80) translate(-2.72 0) scale(0.95 1)">2</text>
<text x="0" y="0" font-size="11.5" fill="#333" letter-spacing="1.029" word-spacing="4.312" transform="translate(355.00 490.80) translate(-47.00 0) scale(0.8 1)">T2m anomaly (<tspan dy="-3.11" font-size="11.5">&#8226;</tspan><tspan dy="3.11">C)</tspan></text>
</svg>
</body></html>
